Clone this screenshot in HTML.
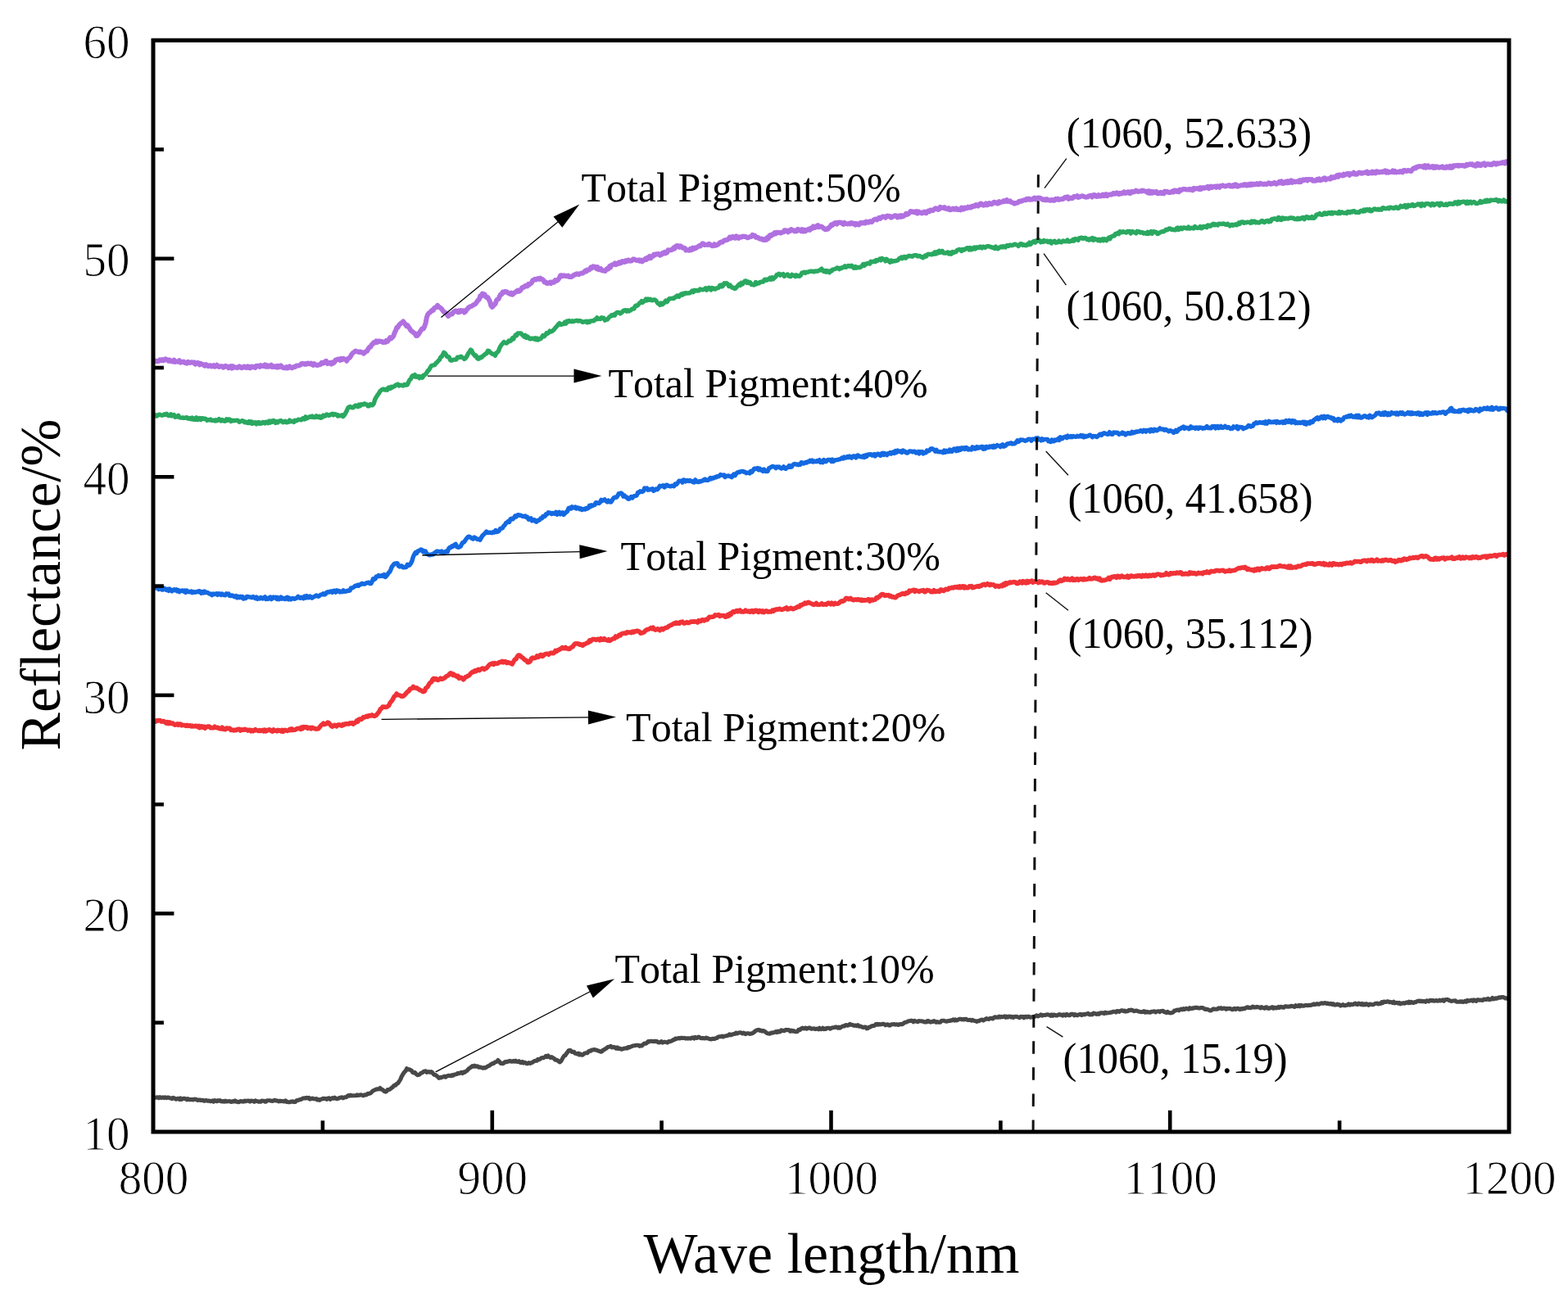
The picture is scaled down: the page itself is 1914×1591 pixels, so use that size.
<!DOCTYPE html>
<html><head><meta charset="utf-8"><title>Reflectance vs Wave length</title>
<style>
html,body{margin:0;padding:0;background:#fff;}
body{width:1914px;height:1591px;overflow:hidden;}
svg{display:block;}
text{font-family:"Liberation Serif","Times New Roman",serif;fill:#000;font-kerning:none;}
</style></head>
<body>
<svg width="1914" height="1591" viewBox="0 0 1914 1591">
<rect x="0" y="0" width="1914" height="1591" fill="#fff"/>
<g><path d="M187.5,1340.2 L189.7,1340.2 L191.0,1339.9 L192.4,1339.7 L193.7,1340.6 L195.1,1339.6 L196.4,1340.5 L197.8,1340.3 L199.1,1339.8 L200.4,1340.6 L201.8,1339.8 L203.1,1340.6 L204.5,1340.0 L205.8,1340.1 L207.2,1340.7 L208.5,1340.9 L209.8,1341.6 L211.1,1340.4 L212.4,1340.7 L213.7,1341.5 L215.0,1342.2 L216.3,1341.6 L217.6,1341.3 L218.9,1342.5 L220.2,1340.9 L221.6,1342.4 L222.9,1341.5 L224.2,1341.3 L225.5,1341.4 L226.8,1341.8 L228.1,1342.8 L229.4,1341.7 L230.7,1342.6 L232.0,1342.5 L233.3,1342.8 L234.6,1342.4 L235.9,1342.9 L237.2,1342.1 L238.5,1342.2 L239.8,1342.5 L241.1,1343.4 L242.4,1343.1 L243.8,1343.0 L245.1,1343.5 L246.4,1343.4 L247.7,1343.2 L249.0,1344.2 L250.3,1344.1 L251.6,1343.4 L252.9,1344.1 L254.2,1344.1 L255.5,1344.1 L256.8,1344.8 L258.1,1344.6 L259.4,1343.8 L260.7,1345.1 L262.0,1343.5 L263.3,1344.1 L264.6,1344.7 L266.0,1343.7 L267.3,1344.3 L268.6,1343.5 L269.9,1344.7 L271.2,1344.9 L272.5,1344.6 L273.8,1345.1 L275.1,1344.2 L276.4,1344.9 L277.7,1344.7 L279.0,1344.7 L280.3,1344.5 L281.6,1345.2 L282.9,1345.5 L284.2,1344.6 L285.6,1345.0 L286.9,1343.9 L288.2,1345.1 L289.5,1345.1 L290.8,1345.7 L292.1,1345.4 L293.4,1344.5 L294.7,1344.9 L296.0,1344.7 L297.3,1345.2 L298.6,1344.0 L299.9,1344.7 L301.2,1344.2 L302.5,1344.1 L303.8,1344.0 L305.1,1345.2 L306.4,1344.0 L307.8,1344.2 L309.1,1344.5 L310.4,1345.3 L311.7,1343.9 L313.0,1344.5 L314.3,1344.7 L315.6,1345.2 L316.9,1345.1 L318.2,1345.2 L319.5,1344.1 L320.8,1344.3 L322.1,1344.2 L323.4,1345.1 L324.7,1345.2 L326.0,1343.7 L327.3,1343.8 L328.6,1343.8 L329.9,1343.8 L331.3,1344.3 L332.6,1344.4 L333.9,1343.8 L335.2,1343.3 L336.5,1344.0 L337.8,1343.9 L339.1,1344.3 L340.4,1344.9 L341.7,1344.1 L343.0,1344.6 L344.4,1344.4 L345.7,1344.7 L347.0,1344.9 L348.4,1343.9 L349.7,1345.5 L351.0,1345.4 L352.3,1345.7 L353.7,1345.7 L355.0,1345.1 L356.3,1345.2 L357.7,1344.8 L359.0,1345.6 L360.4,1345.4 L361.8,1343.9 L363.2,1343.4 L364.6,1343.2 L366.1,1342.6 L367.5,1342.5 L368.9,1341.5 L370.3,1340.9 L371.7,1340.7 L373.1,1340.9 L374.4,1340.3 L375.7,1340.9 L377.0,1340.4 L378.3,1342.1 L379.6,1341.8 L381.0,1341.1 L382.3,1341.4 L383.6,1341.7 L384.9,1341.9 L386.2,1341.6 L387.5,1343.0 L388.8,1342.5 L390.1,1343.3 L391.4,1342.2 L392.7,1342.2 L394.0,1341.4 L395.3,1341.3 L396.6,1341.6 L397.9,1341.4 L399.2,1342.3 L400.5,1341.0 L401.8,1340.7 L403.1,1342.3 L404.5,1341.4 L405.8,1340.6 L407.1,1341.2 L408.4,1340.2 L409.7,1341.0 L411.0,1341.7 L412.3,1341.4 L413.6,1341.0 L414.9,1340.2 L416.2,1340.2 L417.5,1339.8 L418.8,1340.8 L420.1,1340.2 L421.4,1339.7 L422.7,1339.6 L424.1,1338.3 L425.4,1337.6 L426.7,1338.1 L428.0,1337.0 L429.3,1337.9 L430.6,1337.8 L431.9,1337.8 L433.2,1337.8 L434.5,1337.8 L435.8,1336.9 L437.1,1337.5 L438.4,1337.3 L439.7,1336.8 L441.0,1336.8 L442.3,1337.3 L443.6,1337.8 L445.0,1336.7 L446.3,1336.9 L447.7,1336.7 L449.0,1335.2 L450.4,1335.5 L451.8,1334.9 L453.1,1334.2 L454.5,1332.5 L455.8,1331.7 L457.2,1331.0 L458.6,1330.4 L459.9,1329.7 L461.3,1329.9 L462.6,1329.7 L464.0,1328.4 L465.6,1330.2 L467.1,1330.7 L468.7,1332.2 L470.3,1333.1 L471.7,1332.7 L473.1,1330.5 L474.5,1330.6 L475.9,1330.1 L477.3,1328.9 L478.7,1327.9 L480.1,1326.4 L481.5,1325.0 L482.9,1325.1 L484.3,1323.3 L485.7,1322.7 L487.2,1320.5 L488.8,1318.0 L490.3,1314.3 L491.9,1311.7 L493.5,1309.2 L495.0,1307.8 L496.6,1304.7 L498.0,1305.9 L499.4,1305.7 L500.9,1306.4 L502.3,1307.2 L503.7,1309.3 L505.1,1309.9 L506.5,1309.5 L508.0,1311.5 L509.4,1312.6 L510.8,1312.5 L512.4,1311.8 L513.9,1310.3 L515.5,1309.7 L517.0,1308.6 L518.3,1307.9 L519.7,1307.7 L521.0,1309.4 L522.4,1308.9 L523.7,1308.6 L525.1,1309.4 L526.4,1308.6 L527.7,1309.6 L529.1,1311.5 L530.4,1312.5 L531.8,1312.5 L533.1,1313.7 L534.5,1314.9 L535.8,1316.4 L537.1,1315.6 L538.5,1315.9 L539.8,1315.0 L541.2,1314.9 L542.5,1314.1 L543.9,1315.2 L545.2,1314.1 L546.6,1313.5 L548.0,1313.4 L549.3,1313.4 L550.7,1313.7 L552.1,1312.5 L553.5,1313.1 L554.8,1312.0 L556.2,1311.8 L557.6,1311.5 L559.0,1310.3 L560.3,1310.8 L561.7,1310.0 L563.1,1309.4 L564.5,1310.5 L565.8,1309.1 L567.2,1309.4 L568.5,1308.2 L569.9,1307.5 L571.2,1306.1 L572.6,1304.6 L573.9,1303.8 L575.3,1302.7 L576.6,1301.5 L577.9,1302.2 L579.2,1301.2 L580.5,1302.2 L581.8,1301.8 L583.1,1302.1 L584.5,1303.2 L585.8,1302.9 L587.1,1303.2 L588.4,1303.8 L589.7,1304.2 L591.0,1303.6 L592.3,1303.9 L593.6,1303.3 L594.9,1302.3 L596.2,1301.6 L597.5,1301.1 L598.8,1299.9 L600.1,1299.3 L601.4,1298.4 L602.7,1298.4 L604.0,1297.2 L605.3,1296.7 L606.6,1296.1 L607.9,1294.5 L609.5,1296.0 L611.1,1298.4 L612.4,1298.2 L613.7,1298.7 L615.0,1298.2 L616.3,1296.7 L617.6,1296.4 L618.9,1296.7 L620.2,1295.8 L621.5,1295.9 L622.8,1295.3 L624.1,1296.1 L625.4,1296.1 L626.7,1295.3 L628.1,1296.2 L629.4,1295.1 L630.8,1296.3 L632.1,1296.4 L633.5,1295.7 L634.9,1297.2 L636.2,1297.6 L637.6,1296.4 L638.9,1298.0 L640.3,1297.2 L641.7,1297.6 L643.0,1298.7 L644.4,1298.6 L645.7,1297.6 L647.1,1298.4 L648.5,1297.7 L649.9,1297.3 L651.2,1296.3 L652.6,1295.5 L654.0,1295.1 L655.4,1295.3 L656.7,1293.4 L658.1,1293.8 L659.5,1293.0 L660.9,1291.7 L662.2,1291.6 L663.6,1291.6 L665.0,1290.8 L666.4,1289.4 L667.7,1290.5 L669.1,1289.0 L670.5,1290.3 L671.9,1291.4 L673.3,1290.6 L674.7,1291.7 L676.2,1292.1 L677.6,1294.2 L679.0,1294.0 L680.4,1294.6 L681.8,1295.9 L683.2,1296.8 L684.6,1295.8 L685.9,1293.8 L687.3,1291.1 L688.7,1289.1 L690.0,1288.7 L691.4,1286.4 L692.7,1284.8 L694.1,1282.7 L695.4,1282.4 L696.7,1282.8 L698.0,1284.4 L699.3,1284.4 L700.6,1284.2 L702.0,1286.2 L703.3,1286.2 L704.6,1286.9 L705.9,1286.1 L707.2,1287.9 L708.5,1287.0 L709.8,1288.2 L711.2,1288.2 L712.6,1286.9 L714.0,1286.0 L715.4,1285.8 L716.8,1285.8 L718.3,1284.0 L719.7,1283.1 L721.1,1283.2 L722.5,1282.1 L723.9,1281.9 L725.2,1281.5 L726.6,1282.0 L727.9,1282.1 L729.3,1282.7 L730.6,1283.3 L732.0,1283.6 L733.3,1284.3 L734.7,1284.0 L736.0,1282.3 L737.4,1281.9 L738.8,1280.6 L740.2,1280.1 L741.5,1278.7 L742.9,1278.3 L744.3,1278.0 L745.6,1277.4 L746.9,1278.9 L748.2,1278.8 L749.5,1278.4 L750.8,1279.2 L752.1,1280.2 L753.5,1279.0 L754.8,1280.5 L756.1,1280.1 L757.4,1280.4 L758.7,1281.3 L760.0,1280.9 L761.4,1280.3 L762.8,1280.0 L764.2,1279.9 L765.6,1280.0 L766.9,1278.5 L768.3,1278.9 L769.7,1278.2 L771.1,1277.7 L772.5,1277.0 L773.9,1276.8 L775.2,1276.7 L776.6,1276.2 L778.0,1276.3 L779.4,1276.2 L780.8,1277.4 L782.1,1276.6 L783.5,1277.0 L785.1,1275.3 L786.6,1274.1 L788.2,1274.3 L789.7,1273.3 L791.3,1271.5 L792.6,1271.9 L794.0,1271.2 L795.4,1271.2 L796.7,1271.4 L798.0,1271.7 L799.4,1271.2 L800.8,1271.8 L802.1,1271.5 L803.5,1272.8 L804.8,1272.9 L806.1,1272.2 L807.5,1271.7 L808.9,1273.1 L810.2,1272.3 L811.8,1272.2 L813.3,1272.6 L814.9,1273.1 L816.3,1271.6 L817.6,1271.7 L819.0,1271.3 L820.3,1270.8 L821.7,1269.6 L823.1,1269.6 L824.4,1268.1 L825.8,1268.4 L827.1,1267.9 L828.5,1267.5 L829.8,1268.0 L831.2,1267.3 L832.5,1267.2 L833.9,1267.6 L835.2,1267.4 L836.5,1267.9 L837.9,1267.8 L839.2,1268.1 L840.6,1267.8 L841.9,1267.9 L843.3,1268.1 L844.6,1267.1 L845.9,1266.9 L847.3,1268.1 L848.6,1266.5 L850.0,1267.4 L851.3,1267.2 L852.7,1266.1 L854.0,1266.8 L855.3,1267.5 L856.6,1267.8 L857.9,1267.4 L859.2,1267.8 L860.5,1268.0 L861.9,1267.0 L863.2,1267.8 L864.5,1267.9 L865.8,1268.6 L867.1,1268.7 L868.4,1268.9 L869.7,1268.4 L871.0,1268.3 L872.3,1268.5 L873.6,1267.8 L874.9,1267.6 L876.2,1266.4 L877.6,1265.8 L878.9,1265.7 L880.2,1265.8 L881.5,1265.0 L882.8,1266.0 L884.1,1265.3 L885.4,1265.1 L886.7,1264.8 L888.0,1264.6 L889.3,1263.9 L890.6,1262.8 L891.9,1263.9 L893.2,1263.5 L894.6,1262.8 L895.9,1262.5 L897.2,1262.5 L898.5,1261.1 L899.8,1262.0 L901.1,1261.3 L902.4,1260.9 L903.7,1260.7 L905.0,1261.1 L906.3,1262.0 L907.6,1261.1 L908.9,1262.1 L910.2,1262.6 L911.5,1261.8 L912.8,1261.7 L914.1,1261.9 L915.4,1262.4 L916.7,1262.1 L918.0,1261.9 L919.4,1261.0 L920.7,1260.3 L922.1,1258.7 L923.4,1258.1 L924.8,1257.6 L926.1,1257.4 L927.5,1258.4 L928.9,1258.1 L930.3,1259.1 L931.7,1258.6 L933.1,1259.2 L934.5,1260.1 L935.9,1261.4 L937.3,1261.9 L938.7,1262.1 L940.1,1262.1 L941.4,1261.1 L942.8,1261.2 L944.1,1260.8 L945.5,1260.5 L946.9,1259.5 L948.2,1260.6 L949.6,1259.1 L950.9,1260.1 L952.3,1259.8 L953.7,1257.8 L955.0,1258.3 L956.4,1258.6 L957.7,1258.6 L959.1,1257.4 L960.5,1257.6 L961.9,1257.5 L963.3,1257.7 L964.7,1259.3 L966.0,1258.2 L967.4,1259.1 L968.8,1258.6 L970.2,1259.6 L971.6,1259.8 L973.2,1259.7 L974.7,1257.3 L976.3,1257.6 L977.8,1256.1 L979.4,1255.1 L980.7,1255.9 L982.0,1255.7 L983.3,1255.0 L984.6,1256.3 L985.9,1255.7 L987.2,1255.0 L988.6,1255.1 L989.9,1256.1 L991.2,1256.1 L992.5,1256.0 L993.8,1255.8 L995.1,1256.6 L996.4,1256.2 L997.7,1256.1 L999.0,1256.9 L1000.3,1255.3 L1001.6,1256.6 L1003.0,1256.6 L1004.3,1255.2 L1005.6,1256.6 L1006.9,1256.1 L1008.2,1256.4 L1009.5,1255.2 L1010.8,1255.2 L1012.1,1255.2 L1013.4,1256.2 L1014.7,1255.3 L1016.0,1254.8 L1017.3,1254.8 L1018.6,1254.5 L1020.0,1254.0 L1021.3,1254.0 L1022.6,1255.2 L1023.9,1254.1 L1025.2,1255.2 L1026.5,1254.3 L1027.9,1253.4 L1029.2,1252.9 L1030.6,1252.9 L1032.0,1251.8 L1033.3,1251.6 L1034.7,1252.2 L1036.0,1251.6 L1037.4,1250.4 L1038.8,1251.3 L1040.2,1251.2 L1041.6,1252.0 L1043.0,1252.4 L1044.4,1252.0 L1045.8,1252.6 L1047.2,1251.7 L1048.6,1253.2 L1050.0,1253.1 L1051.3,1253.4 L1052.7,1254.2 L1054.0,1254.4 L1055.4,1254.1 L1056.7,1254.0 L1058.1,1255.9 L1059.4,1255.5 L1060.7,1254.2 L1062.1,1254.1 L1063.4,1253.2 L1064.8,1252.5 L1066.1,1252.6 L1067.5,1252.3 L1068.8,1250.8 L1070.1,1250.4 L1071.5,1251.1 L1072.8,1250.5 L1074.2,1251.0 L1075.5,1250.8 L1076.9,1250.4 L1078.2,1250.4 L1079.5,1250.5 L1080.9,1251.8 L1082.2,1251.1 L1083.6,1250.7 L1084.9,1251.9 L1086.3,1252.1 L1087.6,1251.2 L1088.9,1250.7 L1090.3,1250.8 L1091.6,1250.6 L1093.0,1251.1 L1094.3,1250.7 L1095.7,1251.0 L1097.0,1251.5 L1098.4,1250.5 L1099.8,1250.6 L1101.2,1250.6 L1102.6,1249.9 L1104.0,1248.7 L1105.4,1248.2 L1106.8,1247.9 L1108.2,1247.1 L1109.6,1246.8 L1110.9,1246.5 L1112.2,1246.1 L1113.6,1246.5 L1114.9,1247.8 L1116.2,1246.3 L1117.5,1247.0 L1118.9,1247.2 L1120.2,1247.7 L1121.5,1246.6 L1122.8,1246.7 L1124.2,1246.7 L1125.5,1247.0 L1126.8,1247.1 L1128.1,1248.0 L1129.4,1247.9 L1130.8,1248.0 L1132.1,1246.5 L1133.4,1246.5 L1134.7,1247.8 L1136.1,1248.1 L1137.4,1247.4 L1138.7,1247.6 L1140.0,1246.6 L1141.4,1247.3 L1142.7,1248.3 L1144.0,1247.6 L1145.3,1248.1 L1146.6,1248.0 L1147.9,1248.1 L1149.2,1246.6 L1150.5,1246.3 L1151.8,1246.2 L1153.2,1246.7 L1154.5,1246.9 L1155.8,1247.2 L1157.1,1246.7 L1158.4,1246.4 L1159.7,1246.5 L1161.0,1245.8 L1162.3,1245.9 L1163.6,1244.8 L1164.9,1246.0 L1166.2,1244.9 L1167.6,1246.0 L1168.9,1245.4 L1170.2,1244.7 L1171.5,1244.2 L1172.8,1244.3 L1174.1,1244.9 L1175.4,1244.5 L1176.7,1245.0 L1178.0,1244.2 L1179.3,1244.3 L1180.6,1245.3 L1181.9,1245.6 L1183.2,1245.4 L1184.6,1245.3 L1185.9,1246.2 L1187.2,1245.3 L1188.5,1246.1 L1189.8,1246.5 L1191.1,1246.8 L1192.4,1247.4 L1193.7,1246.6 L1195.0,1246.8 L1196.3,1245.8 L1197.6,1245.2 L1198.9,1245.0 L1200.2,1246.0 L1201.5,1245.3 L1202.8,1244.4 L1204.1,1243.6 L1205.4,1244.3 L1206.8,1244.4 L1208.1,1243.7 L1209.4,1243.2 L1210.7,1243.7 L1212.0,1243.9 L1213.3,1242.4 L1214.6,1241.8 L1215.9,1242.2 L1217.2,1242.1 L1218.5,1242.3 L1219.8,1241.2 L1221.1,1242.1 L1222.4,1241.3 L1223.7,1241.8 L1225.0,1241.4 L1226.3,1240.9 L1227.6,1242.3 L1228.9,1241.1 L1230.2,1242.1 L1231.6,1241.0 L1232.9,1241.1 L1234.2,1242.1 L1235.5,1241.3 L1236.8,1242.5 L1238.1,1241.7 L1239.4,1241.2 L1240.7,1241.3 L1242.0,1241.7 L1243.3,1242.1 L1244.6,1242.7 L1246.0,1241.3 L1247.3,1241.7 L1248.6,1241.4 L1249.9,1242.9 L1251.2,1241.4 L1252.5,1241.3 L1253.8,1242.1 L1255.1,1241.1 L1256.4,1241.5 L1257.7,1242.2 L1259.0,1242.0 L1260.3,1241.6 L1261.6,1241.8 L1262.9,1241.5 L1264.2,1240.3 L1265.5,1239.8 L1266.8,1241.0 L1268.1,1240.4 L1269.4,1239.8 L1270.7,1238.9 L1272.0,1240.1 L1273.3,1239.5 L1274.6,1239.5 L1275.9,1239.4 L1277.2,1239.1 L1278.6,1238.7 L1279.9,1239.2 L1281.2,1239.3 L1282.5,1240.4 L1283.8,1238.9 L1285.1,1240.4 L1286.4,1239.0 L1287.7,1239.2 L1289.0,1240.0 L1290.3,1240.0 L1291.6,1239.3 L1293.0,1238.6 L1294.3,1239.3 L1295.6,1239.1 L1296.9,1240.1 L1298.2,1238.8 L1299.5,1239.0 L1300.8,1240.0 L1302.1,1238.4 L1303.4,1239.1 L1304.7,1239.8 L1306.0,1239.7 L1307.3,1238.3 L1308.7,1238.3 L1310.0,1238.3 L1311.3,1239.8 L1312.6,1238.6 L1313.9,1239.5 L1315.2,1239.7 L1316.5,1239.0 L1317.8,1238.6 L1319.1,1238.4 L1320.4,1239.6 L1321.7,1238.9 L1323.0,1238.2 L1324.3,1238.9 L1325.6,1238.1 L1326.9,1238.0 L1328.2,1237.4 L1329.6,1238.7 L1330.9,1238.9 L1332.2,1238.3 L1333.5,1238.8 L1334.8,1237.1 L1336.1,1237.4 L1337.4,1237.7 L1338.7,1238.5 L1340.0,1237.6 L1341.3,1238.3 L1342.6,1237.1 L1343.9,1236.8 L1345.2,1236.9 L1346.5,1236.9 L1347.8,1237.6 L1349.2,1236.1 L1350.5,1237.1 L1351.8,1236.8 L1353.1,1236.8 L1354.4,1236.6 L1355.7,1236.0 L1357.0,1236.1 L1358.3,1235.4 L1359.6,1235.3 L1360.9,1235.2 L1362.2,1235.9 L1363.5,1234.5 L1364.8,1234.6 L1366.1,1235.4 L1367.5,1234.4 L1368.8,1233.9 L1370.1,1233.8 L1371.4,1234.6 L1372.7,1234.0 L1374.0,1235.1 L1375.3,1234.8 L1376.6,1234.8 L1377.9,1233.4 L1379.2,1233.7 L1380.5,1233.1 L1381.8,1233.2 L1383.1,1234.1 L1384.4,1234.6 L1385.7,1234.2 L1387.0,1234.0 L1388.3,1234.4 L1389.6,1234.9 L1391.0,1235.2 L1392.3,1235.4 L1393.6,1235.7 L1394.9,1235.5 L1396.2,1234.7 L1397.5,1236.1 L1398.8,1235.2 L1400.1,1235.9 L1401.4,1235.6 L1402.7,1236.0 L1404.0,1236.3 L1405.3,1235.2 L1406.6,1235.2 L1407.9,1235.0 L1409.2,1234.8 L1410.6,1235.9 L1411.9,1235.3 L1413.2,1234.7 L1414.5,1234.7 L1415.8,1235.6 L1417.1,1234.6 L1418.4,1234.5 L1419.7,1234.3 L1421.1,1235.7 L1422.4,1235.8 L1423.8,1236.7 L1425.1,1235.4 L1426.5,1236.4 L1427.8,1236.8 L1429.2,1236.9 L1430.6,1236.5 L1432.0,1236.1 L1433.4,1234.1 L1434.8,1234.1 L1436.3,1233.3 L1437.7,1233.0 L1439.1,1233.9 L1440.5,1232.7 L1441.9,1232.1 L1443.2,1232.8 L1444.5,1231.7 L1445.8,1232.5 L1447.1,1231.7 L1448.4,1231.3 L1449.7,1232.1 L1451.0,1232.3 L1452.3,1230.7 L1453.7,1231.5 L1455.0,1231.5 L1456.3,1230.7 L1457.6,1230.9 L1458.9,1230.4 L1460.2,1230.4 L1461.5,1230.4 L1462.8,1230.9 L1464.1,1231.0 L1465.4,1230.6 L1466.8,1230.5 L1468.2,1230.5 L1469.5,1231.5 L1470.9,1232.5 L1472.3,1232.0 L1473.7,1232.6 L1475.0,1232.8 L1476.4,1233.7 L1477.8,1234.0 L1479.2,1233.3 L1480.6,1232.1 L1482.0,1231.9 L1483.3,1232.2 L1484.7,1232.2 L1486.1,1232.1 L1487.5,1230.8 L1488.9,1231.3 L1490.2,1230.7 L1491.5,1231.7 L1492.8,1231.3 L1494.1,1231.1 L1495.4,1231.2 L1496.7,1232.4 L1498.0,1231.3 L1499.3,1231.8 L1500.7,1231.4 L1502.0,1231.6 L1503.3,1232.4 L1504.6,1232.7 L1505.9,1231.6 L1507.2,1231.4 L1508.5,1232.4 L1509.8,1231.5 L1511.1,1231.2 L1512.4,1232.1 L1513.7,1232.6 L1515.0,1231.6 L1516.3,1232.1 L1517.6,1231.2 L1518.9,1231.8 L1520.2,1230.9 L1521.6,1230.2 L1522.9,1229.7 L1524.2,1230.5 L1525.5,1230.4 L1526.8,1230.7 L1528.1,1229.8 L1529.4,1229.1 L1530.7,1230.1 L1532.0,1229.7 L1533.3,1230.0 L1534.6,1229.4 L1535.9,1229.7 L1537.2,1230.1 L1538.5,1230.9 L1539.8,1229.5 L1541.2,1230.2 L1542.5,1230.8 L1543.8,1231.2 L1545.1,1229.8 L1546.4,1229.8 L1547.7,1231.3 L1549.0,1231.4 L1550.3,1230.5 L1551.6,1230.6 L1552.9,1229.7 L1554.2,1231.2 L1555.5,1230.1 L1556.8,1231.0 L1558.1,1230.4 L1559.4,1230.7 L1560.7,1229.4 L1562.0,1230.4 L1563.3,1229.3 L1564.7,1229.5 L1566.0,1230.2 L1567.3,1230.1 L1568.6,1228.9 L1569.9,1228.8 L1571.2,1229.1 L1572.5,1229.2 L1573.8,1228.9 L1575.1,1229.0 L1576.4,1228.2 L1577.7,1228.4 L1579.0,1229.1 L1580.3,1229.4 L1581.6,1227.7 L1582.9,1228.6 L1584.2,1228.8 L1585.5,1227.5 L1586.8,1228.8 L1588.2,1227.4 L1589.5,1228.2 L1590.8,1228.0 L1592.1,1228.1 L1593.4,1227.4 L1594.7,1227.5 L1596.0,1227.7 L1597.3,1227.4 L1598.6,1227.4 L1599.9,1227.5 L1601.2,1226.9 L1602.5,1226.7 L1603.8,1225.8 L1605.1,1226.7 L1606.4,1226.2 L1607.8,1225.6 L1609.1,1226.3 L1610.4,1226.2 L1611.7,1225.4 L1613.0,1224.7 L1614.3,1225.1 L1615.6,1225.2 L1616.9,1224.6 L1618.2,1224.8 L1619.5,1225.5 L1620.8,1225.0 L1622.1,1225.8 L1623.4,1226.0 L1624.7,1225.3 L1626.0,1226.5 L1627.4,1225.6 L1628.7,1226.9 L1630.0,1227.1 L1631.3,1226.8 L1632.6,1226.1 L1633.9,1227.0 L1635.2,1226.9 L1636.5,1228.1 L1637.8,1227.4 L1639.2,1226.6 L1640.6,1227.7 L1641.9,1227.8 L1643.3,1227.2 L1644.7,1227.1 L1646.1,1225.9 L1647.5,1227.1 L1648.9,1226.1 L1650.2,1226.7 L1651.6,1226.5 L1653.0,1225.6 L1654.4,1225.1 L1655.7,1226.3 L1657.1,1226.6 L1658.4,1225.1 L1659.8,1225.7 L1661.1,1226.5 L1662.5,1225.5 L1663.8,1226.9 L1665.2,1225.8 L1666.5,1226.9 L1667.9,1225.7 L1669.2,1226.5 L1670.6,1227.3 L1671.9,1226.1 L1673.3,1226.2 L1674.6,1226.7 L1676.0,1226.8 L1677.3,1226.2 L1678.6,1225.4 L1680.0,1225.3 L1681.3,1225.0 L1682.6,1226.0 L1683.9,1225.3 L1685.3,1225.4 L1686.6,1223.7 L1687.9,1224.5 L1689.2,1223.0 L1690.6,1223.5 L1691.9,1223.4 L1693.2,1222.8 L1694.5,1222.7 L1695.9,1223.8 L1697.2,1223.4 L1698.5,1223.7 L1699.9,1224.4 L1701.2,1223.1 L1702.5,1224.9 L1703.8,1224.4 L1705.2,1224.2 L1706.5,1225.1 L1707.8,1224.3 L1709.2,1225.8 L1710.5,1225.1 L1711.8,1225.1 L1713.2,1224.6 L1714.5,1225.2 L1715.9,1224.5 L1717.2,1223.8 L1718.6,1224.7 L1719.9,1223.3 L1721.3,1224.6 L1722.6,1223.4 L1724.0,1224.0 L1725.3,1224.5 L1726.7,1223.6 L1728.0,1223.6 L1729.4,1222.9 L1730.7,1222.2 L1732.1,1222.1 L1733.4,1222.8 L1734.7,1222.1 L1736.1,1222.9 L1737.4,1222.5 L1738.7,1222.6 L1740.1,1223.3 L1741.4,1221.9 L1742.7,1222.0 L1744.0,1222.7 L1745.4,1221.5 L1746.7,1221.4 L1748.0,1222.0 L1749.4,1221.5 L1750.7,1222.2 L1752.0,1221.9 L1753.3,1221.5 L1754.7,1222.1 L1756.0,1222.0 L1757.3,1221.2 L1758.6,1221.9 L1760.0,1221.5 L1761.3,1220.8 L1762.6,1222.2 L1763.9,1220.8 L1765.3,1220.6 L1766.6,1220.4 L1767.9,1221.0 L1769.3,1221.5 L1770.8,1222.2 L1772.2,1222.4 L1773.7,1222.0 L1775.1,1222.0 L1776.5,1221.8 L1778.0,1223.3 L1779.4,1223.3 L1780.7,1223.3 L1782.1,1222.8 L1783.4,1223.2 L1784.7,1222.8 L1786.0,1223.5 L1787.4,1223.1 L1788.7,1222.1 L1790.0,1223.2 L1791.3,1221.5 L1792.7,1222.3 L1794.0,1221.9 L1795.3,1221.5 L1796.7,1221.1 L1798.0,1222.3 L1799.3,1220.8 L1800.6,1221.7 L1802.0,1222.3 L1803.3,1220.7 L1804.6,1220.7 L1805.9,1221.3 L1807.3,1221.1 L1808.6,1221.2 L1809.9,1221.4 L1811.2,1220.1 L1812.6,1220.3 L1813.9,1220.5 L1815.2,1220.0 L1816.5,1219.3 L1817.9,1220.7 L1819.2,1220.3 L1820.5,1220.0 L1821.8,1218.5 L1823.2,1219.9 L1824.5,1219.5 L1825.8,1218.8 L1827.1,1219.2 L1828.5,1218.5 L1829.8,1217.9 L1831.1,1218.2 L1832.4,1217.6 L1833.7,1217.8 L1835.0,1217.6 L1836.3,1218.2 L1837.6,1219.0 L1838.9,1218.9 L1840.2,1219.3 L1841.5,1218.7" fill="none" stroke="#484848" stroke-width="5.1" stroke-linejoin="round" stroke-linecap="butt"/><path d="M187.5,881.1 L188.1,881.1 L189.7,881.2 L191.2,879.8 L192.8,880.1 L194.4,879.6 L195.8,879.8 L197.2,881.1 L198.6,880.8 L200.0,880.6 L201.4,881.9 L202.9,883.1 L204.3,881.7 L205.7,883.6 L207.1,881.9 L208.5,883.5 L209.8,883.1 L211.1,883.1 L212.4,884.5 L213.7,885.1 L215.0,884.7 L216.3,883.9 L217.6,885.3 L218.9,884.1 L220.2,884.0 L221.6,885.8 L222.9,885.2 L224.2,885.5 L225.5,885.6 L226.8,886.4 L228.1,885.3 L229.4,886.4 L230.7,886.1 L232.0,885.8 L233.3,886.9 L234.6,886.0 L235.9,886.9 L237.2,886.8 L238.5,886.3 L239.8,886.3 L241.2,887.5 L242.5,886.4 L243.8,888.6 L245.1,886.9 L246.4,886.9 L247.7,888.2 L249.0,887.3 L250.3,889.2 L251.6,887.8 L252.9,887.3 L254.2,887.1 L255.5,887.1 L256.9,888.7 L258.2,888.5 L259.5,888.7 L260.8,888.8 L262.1,887.2 L263.4,888.2 L264.7,888.6 L266.0,888.2 L267.3,889.5 L268.6,889.7 L269.9,890.0 L271.2,888.2 L272.5,890.3 L273.8,890.6 L275.1,890.8 L276.5,889.0 L277.8,889.4 L279.1,889.3 L280.4,889.3 L281.7,891.4 L283.0,891.5 L284.3,891.3 L285.6,891.9 L286.9,891.3 L288.2,891.6 L289.5,890.8 L290.8,890.4 L292.1,890.4 L293.4,892.1 L294.7,890.8 L296.0,891.1 L297.4,891.3 L298.7,890.4 L300.0,891.0 L301.3,891.1 L302.6,892.1 L303.9,891.3 L305.2,891.2 L306.5,892.8 L307.8,891.7 L309.1,892.6 L310.4,892.1 L311.7,890.7 L313.0,891.6 L314.3,891.7 L315.6,892.5 L317.0,891.5 L318.3,892.4 L319.6,892.1 L320.9,891.3 L322.2,892.9 L323.5,891.1 L324.8,892.8 L326.1,892.1 L327.4,891.3 L328.7,890.9 L330.0,891.4 L331.3,892.7 L332.6,893.2 L333.9,890.9 L335.2,892.1 L336.5,892.1 L337.9,892.8 L339.2,891.3 L340.5,892.1 L341.8,891.7 L343.1,892.9 L344.4,891.5 L345.7,893.2 L347.0,891.6 L348.3,891.4 L349.6,892.1 L350.9,892.4 L352.2,891.7 L353.5,890.5 L354.8,891.6 L356.1,890.0 L357.4,891.5 L358.7,891.1 L360.0,891.1 L361.4,890.5 L362.7,889.6 L364.0,889.5 L365.3,889.2 L366.6,890.2 L367.9,888.1 L369.2,889.8 L370.5,887.5 L371.8,887.7 L373.1,888.2 L374.4,887.8 L375.7,889.4 L377.0,888.6 L378.3,888.4 L379.6,889.7 L381.0,888.3 L382.3,889.0 L383.6,889.3 L384.9,889.9 L386.2,890.1 L387.5,889.9 L388.8,889.7 L390.4,887.5 L391.9,885.7 L393.5,884.3 L394.8,883.2 L396.1,884.6 L397.4,883.9 L398.7,883.8 L400.0,882.2 L401.3,882.7 L402.9,884.5 L404.4,886.6 L405.7,887.1 L407.0,886.5 L408.3,885.3 L409.6,886.0 L410.9,886.9 L412.2,885.2 L413.6,884.9 L414.9,885.1 L416.2,885.9 L417.5,886.1 L418.8,884.3 L420.1,885.0 L421.5,883.9 L422.9,883.9 L424.3,883.8 L425.7,884.0 L427.0,882.9 L428.4,883.1 L429.8,882.5 L431.2,884.1 L432.6,882.7 L434.0,882.4 L435.4,880.0 L436.7,881.1 L438.1,878.2 L439.5,878.0 L440.9,878.5 L442.2,877.2 L443.6,875.6 L444.9,876.0 L446.2,875.1 L447.5,874.3 L448.8,875.2 L450.1,873.7 L451.5,873.7 L452.8,874.0 L454.1,872.9 L455.4,873.6 L456.7,874.4 L458.0,874.0 L459.3,873.3 L460.6,871.6 L461.9,870.2 L463.2,868.1 L464.5,865.6 L465.8,865.0 L467.1,863.1 L468.6,863.0 L470.0,863.4 L471.7,863.4 L473.4,862.3 L474.7,861.4 L476.1,858.3 L477.4,856.7 L478.8,855.2 L480.1,852.5 L481.4,850.2 L482.8,849.4 L484.1,847.0 L485.7,848.5 L487.2,848.9 L488.8,849.3 L490.3,850.3 L491.9,850.1 L493.3,849.2 L494.7,847.8 L496.1,846.1 L497.5,844.5 L498.9,843.9 L500.3,841.3 L501.7,840.8 L503.1,840.4 L504.5,838.4 L505.9,839.6 L507.3,840.1 L508.7,839.9 L510.1,841.0 L511.4,841.7 L512.8,842.8 L514.2,843.0 L515.6,844.3 L517.0,844.6 L518.4,843.8 L519.8,840.1 L521.1,839.4 L522.5,837.8 L523.9,835.0 L525.2,833.4 L526.6,832.7 L528.0,829.7 L529.4,828.5 L530.8,829.6 L532.2,828.7 L533.6,830.1 L534.9,830.4 L536.3,829.3 L537.7,828.2 L539.1,829.3 L540.5,829.0 L541.8,828.1 L543.2,827.5 L544.5,826.0 L545.9,825.3 L547.2,824.7 L548.6,823.0 L549.9,821.9 L551.2,822.3 L552.5,824.3 L553.8,823.2 L555.1,824.9 L556.4,824.9 L557.8,826.4 L559.1,825.5 L560.4,828.3 L561.7,827.4 L563.0,827.3 L564.3,828.5 L565.6,829.7 L567.0,828.4 L568.4,826.4 L569.8,826.2 L571.2,825.1 L572.7,824.7 L574.1,822.8 L575.5,821.5 L576.9,820.3 L578.3,820.5 L579.7,818.8 L581.1,819.6 L582.5,818.3 L583.9,817.3 L585.3,818.5 L586.7,817.2 L588.1,816.5 L589.5,816.0 L590.9,817.3 L592.3,816.4 L593.8,815.8 L595.4,814.0 L597.0,812.2 L598.5,810.9 L599.8,810.8 L601.2,809.8 L602.5,811.3 L603.8,809.6 L605.2,810.0 L606.5,810.2 L607.8,810.0 L609.1,808.9 L610.5,808.3 L611.8,808.6 L613.1,807.4 L614.5,808.8 L615.8,807.8 L617.1,807.9 L618.5,809.5 L619.8,808.6 L621.2,809.3 L622.5,809.4 L623.9,810.3 L625.2,810.9 L626.8,808.0 L628.3,805.3 L629.9,804.9 L631.4,801.7 L633.0,800.0 L634.4,800.3 L635.8,801.4 L637.2,802.8 L638.6,803.7 L639.9,805.1 L641.3,806.1 L642.7,806.4 L644.1,808.7 L645.5,808.6 L647.1,807.6 L648.7,803.9 L650.3,803.1 L651.6,803.6 L652.9,803.5 L654.2,802.9 L655.5,801.0 L656.8,802.4 L658.1,801.6 L659.4,799.8 L660.7,799.5 L662.0,801.4 L663.4,800.4 L664.7,799.1 L666.0,798.5 L667.3,798.3 L668.6,798.2 L669.9,799.2 L671.2,797.8 L672.5,797.1 L673.8,797.6 L675.2,797.8 L676.6,796.7 L678.0,794.5 L679.4,795.4 L680.7,794.0 L682.1,793.6 L683.5,792.6 L684.9,792.3 L686.3,790.6 L687.6,791.5 L689.0,791.8 L690.3,790.5 L691.7,791.9 L693.0,791.7 L694.4,792.5 L695.7,792.1 L697.3,790.4 L698.9,789.9 L700.4,787.6 L702.0,785.9 L703.3,785.7 L704.7,785.9 L706.0,786.0 L707.4,787.2 L708.7,786.5 L710.1,787.8 L711.4,788.2 L712.8,786.5 L714.2,786.4 L715.6,785.6 L717.0,784.8 L718.3,784.7 L719.7,781.8 L721.1,783.0 L722.5,781.2 L723.9,780.4 L725.3,780.6 L726.6,780.9 L728.0,781.4 L729.4,780.3 L730.8,780.5 L732.1,781.8 L733.5,779.7 L734.9,781.1 L736.3,781.2 L737.6,779.8 L739.0,781.2 L740.4,781.4 L741.8,782.1 L743.1,780.7 L744.5,782.3 L745.9,781.2 L747.3,780.5 L748.7,779.6 L750.1,779.8 L751.5,777.0 L753.0,777.9 L754.4,776.9 L755.8,775.4 L757.2,775.9 L758.6,773.9 L760.0,773.5 L761.3,773.2 L762.7,773.1 L764.0,773.5 L765.4,771.9 L766.7,772.3 L768.1,772.0 L769.4,772.1 L770.7,772.6 L772.1,771.1 L773.4,772.1 L774.8,770.9 L776.1,770.9 L777.5,770.2 L778.8,770.5 L780.4,771.3 L781.9,773.2 L783.5,772.9 L784.9,772.5 L786.2,772.0 L787.6,770.1 L789.0,769.3 L790.4,768.5 L791.8,768.4 L793.1,767.7 L794.5,766.6 L795.9,767.7 L797.2,766.3 L798.6,768.3 L800.0,769.1 L801.4,768.6 L802.8,767.8 L804.1,768.8 L805.5,769.7 L806.8,767.9 L808.1,767.6 L809.5,768.7 L810.8,767.3 L812.1,766.8 L813.4,766.4 L814.8,766.1 L816.1,764.7 L817.4,764.0 L818.7,763.4 L820.1,762.9 L821.4,762.0 L822.7,761.1 L824.0,761.4 L825.3,760.2 L826.6,761.2 L827.9,760.6 L829.2,761.3 L830.5,759.6 L831.8,759.7 L833.1,759.2 L834.4,760.9 L835.7,761.1 L837.0,760.4 L838.4,759.6 L839.7,760.6 L841.0,760.4 L842.3,759.8 L843.6,759.0 L844.9,759.0 L846.2,759.2 L847.5,758.8 L848.8,759.0 L850.1,759.4 L851.4,760.0 L852.7,757.8 L854.0,758.8 L855.3,758.6 L856.6,756.9 L858.0,756.7 L859.3,757.9 L860.6,757.0 L861.9,756.4 L863.3,756.7 L864.6,754.9 L866.0,753.2 L867.4,753.4 L868.8,753.2 L870.1,753.3 L871.5,752.7 L872.9,750.9 L874.3,751.1 L875.7,751.2 L877.1,750.7 L878.5,752.3 L879.8,751.5 L881.2,751.7 L882.6,751.6 L884.0,751.8 L885.4,753.3 L886.8,753.0 L888.2,750.8 L889.6,752.1 L891.0,749.2 L892.3,750.2 L893.7,747.7 L895.1,746.6 L896.5,747.5 L897.9,746.2 L899.2,745.6 L900.6,746.8 L901.9,745.4 L903.3,745.1 L904.6,746.9 L906.0,746.7 L907.3,747.1 L908.6,746.8 L910.0,745.2 L911.3,746.5 L912.7,746.7 L914.0,746.1 L915.4,747.2 L916.7,746.2 L918.0,745.7 L919.3,747.4 L920.6,746.9 L921.9,745.2 L923.3,745.3 L924.6,746.8 L925.9,747.3 L927.2,745.5 L928.5,746.1 L929.8,747.2 L931.1,745.9 L932.4,747.6 L933.7,746.7 L935.1,745.8 L936.4,746.5 L937.7,747.1 L939.0,746.8 L940.3,747.0 L941.6,746.9 L942.9,745.1 L944.2,746.2 L945.5,744.6 L946.8,744.8 L948.1,743.9 L949.4,744.1 L950.7,743.5 L952.0,743.4 L953.3,744.2 L954.6,744.5 L955.9,744.0 L957.2,743.4 L958.5,742.7 L959.9,742.0 L961.2,744.1 L962.5,743.4 L963.8,743.6 L965.1,742.3 L966.4,742.9 L967.7,743.7 L969.0,743.3 L970.3,742.6 L971.6,742.3 L973.0,741.1 L974.4,740.6 L975.7,740.9 L977.1,738.9 L978.5,738.9 L979.9,737.9 L981.2,737.8 L982.6,736.1 L984.0,737.0 L985.4,735.9 L986.8,735.4 L988.2,736.2 L989.5,736.7 L990.9,737.3 L992.3,738.0 L993.7,738.4 L995.1,737.6 L996.4,736.5 L997.8,738.3 L999.1,738.2 L1000.5,738.3 L1001.8,737.6 L1003.2,736.8 L1004.5,738.2 L1005.8,738.0 L1007.2,737.7 L1008.5,738.2 L1009.9,736.8 L1011.2,736.1 L1012.6,737.2 L1013.9,737.8 L1015.2,736.3 L1016.6,737.6 L1017.9,738.0 L1019.3,736.3 L1020.6,737.1 L1022.0,737.3 L1023.3,736.8 L1024.7,735.9 L1026.0,734.5 L1027.4,733.9 L1028.8,734.3 L1030.2,733.6 L1031.5,732.1 L1032.9,730.4 L1034.3,730.6 L1035.6,731.5 L1036.9,731.6 L1038.2,730.5 L1039.5,731.6 L1040.8,732.5 L1042.2,732.7 L1043.5,732.0 L1044.8,732.1 L1046.1,732.5 L1047.4,731.8 L1048.7,732.0 L1050.0,732.9 L1051.3,732.1 L1052.6,733.4 L1053.9,732.6 L1055.2,733.1 L1056.5,732.7 L1057.8,732.9 L1059.2,732.1 L1060.5,731.8 L1061.8,734.1 L1063.1,732.6 L1064.4,732.0 L1065.7,732.9 L1067.1,732.4 L1068.5,732.0 L1069.9,729.7 L1071.3,730.0 L1072.6,728.6 L1074.0,728.2 L1075.4,726.2 L1076.8,725.5 L1078.2,725.8 L1079.5,727.2 L1080.8,727.2 L1082.1,726.6 L1083.4,727.0 L1084.7,726.6 L1086.1,728.1 L1087.4,727.5 L1088.7,729.0 L1090.0,728.8 L1091.3,729.2 L1092.6,729.8 L1093.9,729.0 L1095.2,727.8 L1096.6,726.8 L1097.9,726.6 L1099.3,726.0 L1100.6,725.2 L1102.0,724.5 L1103.3,725.2 L1104.6,725.4 L1106.0,723.8 L1107.3,724.4 L1108.7,723.8 L1110.0,721.2 L1111.4,721.9 L1112.7,721.1 L1114.0,720.9 L1115.3,720.3 L1116.6,722.3 L1117.9,720.7 L1119.2,721.4 L1120.5,721.6 L1121.8,722.4 L1123.1,721.8 L1124.4,721.1 L1125.7,721.3 L1127.0,720.7 L1128.3,722.6 L1129.7,722.7 L1131.0,720.9 L1132.3,720.5 L1133.6,721.0 L1134.9,721.3 L1136.2,722.7 L1137.5,722.7 L1138.8,722.6 L1140.1,720.7 L1141.4,722.5 L1142.7,722.4 L1144.0,721.9 L1145.3,722.0 L1146.6,722.5 L1147.9,720.1 L1149.2,720.0 L1150.6,721.2 L1151.9,721.4 L1153.2,720.5 L1154.5,719.3 L1155.8,719.8 L1157.1,719.9 L1158.4,718.1 L1159.7,718.3 L1161.0,717.9 L1162.4,717.3 L1163.7,717.9 L1165.0,716.9 L1166.3,716.8 L1167.6,717.2 L1168.9,716.3 L1170.2,717.5 L1171.5,715.9 L1172.8,717.5 L1174.1,716.2 L1175.4,715.8 L1176.7,717.9 L1178.0,716.2 L1179.3,717.8 L1180.7,717.6 L1182.0,717.6 L1183.3,715.8 L1184.6,716.5 L1185.9,715.6 L1187.2,717.6 L1188.5,717.3 L1189.8,716.8 L1191.1,716.4 L1192.4,716.0 L1193.7,715.5 L1195.0,716.4 L1196.3,715.3 L1197.6,715.4 L1198.9,714.0 L1200.2,713.9 L1201.5,713.3 L1202.8,714.6 L1204.1,713.9 L1205.4,712.7 L1206.7,713.3 L1208.1,714.5 L1209.5,713.4 L1210.9,714.1 L1212.3,713.9 L1213.7,714.5 L1215.1,716.2 L1216.5,715.3 L1217.9,715.3 L1219.3,716.4 L1220.7,715.8 L1222.0,714.8 L1223.4,715.6 L1224.8,713.1 L1226.2,714.6 L1227.5,711.8 L1228.9,713.2 L1230.3,711.7 L1231.6,712.0 L1232.9,710.9 L1234.3,711.5 L1235.6,711.0 L1236.9,710.8 L1238.2,710.6 L1239.6,711.0 L1240.9,712.4 L1242.2,712.4 L1243.5,712.1 L1244.9,710.1 L1246.2,710.5 L1247.5,711.9 L1248.8,709.8 L1250.1,711.4 L1251.5,710.3 L1252.8,711.9 L1254.1,709.5 L1255.4,711.3 L1256.8,710.2 L1258.1,709.6 L1259.4,709.2 L1260.7,711.2 L1262.1,710.4 L1263.4,709.5 L1264.7,710.2 L1266.1,710.2 L1267.4,711.5 L1268.8,710.0 L1270.1,711.0 L1271.5,710.1 L1272.9,710.4 L1274.2,711.9 L1275.6,711.9 L1276.9,710.9 L1278.3,710.7 L1279.7,710.9 L1281.0,712.3 L1282.4,712.2 L1283.7,711.8 L1285.1,712.5 L1286.4,711.3 L1287.7,711.9 L1289.0,711.6 L1290.3,711.4 L1291.6,710.4 L1292.9,709.0 L1294.3,708.2 L1295.6,709.4 L1296.9,708.2 L1298.2,708.4 L1299.5,706.4 L1300.8,707.0 L1302.1,707.8 L1303.4,706.7 L1304.7,708.0 L1306.0,708.1 L1307.3,707.2 L1308.6,706.1 L1309.9,708.3 L1311.2,707.3 L1312.5,708.3 L1313.9,706.9 L1315.2,706.7 L1316.5,708.3 L1317.8,707.3 L1319.1,706.8 L1320.4,707.4 L1321.7,707.9 L1323.0,706.6 L1324.3,707.8 L1325.7,707.6 L1327.0,707.1 L1328.4,707.0 L1329.8,705.7 L1331.2,706.9 L1332.5,706.8 L1333.9,706.7 L1335.3,705.5 L1336.7,705.4 L1338.1,706.7 L1339.5,706.2 L1340.9,707.5 L1342.2,706.2 L1343.6,708.5 L1345.0,709.0 L1346.4,708.2 L1347.8,708.6 L1349.2,708.1 L1350.5,707.7 L1351.9,707.2 L1353.3,705.5 L1354.7,707.3 L1356.0,705.0 L1357.4,704.4 L1358.8,704.7 L1360.1,703.7 L1361.5,704.0 L1362.8,705.3 L1364.2,703.4 L1365.5,703.5 L1366.9,704.9 L1368.2,703.7 L1369.5,703.2 L1370.9,704.6 L1372.2,704.5 L1373.6,704.3 L1374.9,704.7 L1376.3,703.3 L1377.6,705.1 L1378.9,704.6 L1380.3,703.0 L1381.6,703.1 L1383.0,704.0 L1384.3,704.0 L1385.7,703.4 L1387.0,703.9 L1388.3,702.9 L1389.6,703.5 L1390.9,702.7 L1392.2,703.7 L1393.5,704.2 L1394.8,702.4 L1396.1,703.3 L1397.4,703.6 L1398.8,702.1 L1400.1,703.6 L1401.4,703.8 L1402.7,702.3 L1404.0,702.3 L1405.3,703.2 L1406.6,702.3 L1407.9,701.9 L1409.2,703.1 L1410.5,702.6 L1411.8,701.5 L1413.1,701.1 L1414.4,701.2 L1415.7,701.4 L1417.0,702.6 L1418.3,702.0 L1419.6,702.2 L1420.9,701.8 L1422.2,701.8 L1423.6,699.8 L1424.9,700.8 L1426.2,701.7 L1427.5,701.6 L1428.8,699.8 L1430.1,700.1 L1431.4,700.5 L1432.7,699.8 L1434.0,700.0 L1435.3,700.1 L1436.6,699.0 L1437.9,699.8 L1439.2,700.0 L1440.5,698.8 L1441.8,699.1 L1443.2,701.1 L1444.5,700.7 L1445.8,701.0 L1447.1,700.3 L1448.4,700.7 L1449.7,700.9 L1451.0,700.9 L1452.3,698.9 L1453.6,700.3 L1454.9,699.4 L1456.2,700.4 L1457.6,699.5 L1458.9,700.1 L1460.2,701.0 L1461.5,700.3 L1462.8,699.4 L1464.1,700.0 L1465.4,700.0 L1466.7,699.6 L1468.0,700.7 L1469.3,698.9 L1470.6,698.7 L1471.9,699.4 L1473.2,697.9 L1474.6,698.8 L1475.9,699.5 L1477.2,698.2 L1478.5,697.4 L1479.8,697.7 L1481.1,697.6 L1482.4,697.6 L1483.7,696.7 L1485.0,696.6 L1486.3,696.5 L1487.6,696.9 L1488.9,697.1 L1490.2,696.8 L1491.5,696.6 L1492.8,696.2 L1494.2,697.3 L1495.5,697.9 L1496.8,697.3 L1498.1,697.2 L1499.4,697.3 L1500.7,696.2 L1502.0,697.4 L1503.3,696.8 L1504.6,696.8 L1506.0,696.5 L1507.4,696.2 L1508.8,695.4 L1510.2,694.6 L1511.5,694.0 L1512.9,693.5 L1514.3,693.8 L1515.7,693.1 L1517.1,692.9 L1518.5,693.5 L1519.8,692.5 L1521.2,693.7 L1522.6,695.4 L1524.0,694.3 L1525.3,695.4 L1526.7,695.7 L1528.1,696.1 L1529.4,695.5 L1530.7,697.0 L1532.0,695.2 L1533.3,696.2 L1534.6,694.6 L1535.9,694.3 L1537.3,696.1 L1538.6,694.9 L1539.9,693.8 L1541.2,694.5 L1542.5,694.5 L1543.8,694.5 L1545.1,694.8 L1546.5,693.0 L1547.8,693.0 L1549.2,694.5 L1550.5,693.7 L1551.9,692.0 L1553.2,692.2 L1554.5,691.9 L1555.9,692.4 L1557.2,692.0 L1558.6,692.3 L1559.9,691.9 L1561.3,690.9 L1562.6,690.6 L1563.9,691.4 L1565.2,691.6 L1566.5,691.8 L1567.8,691.3 L1569.1,692.2 L1570.4,692.3 L1571.7,692.9 L1573.0,691.2 L1574.3,693.2 L1575.6,691.3 L1576.9,693.3 L1578.2,692.9 L1579.5,692.8 L1580.9,692.2 L1582.2,693.0 L1583.6,691.7 L1585.0,691.0 L1586.3,691.6 L1587.7,691.4 L1589.0,690.5 L1590.3,689.6 L1591.7,689.4 L1593.0,689.1 L1594.4,689.4 L1595.8,688.0 L1597.1,688.2 L1598.4,688.0 L1599.7,688.4 L1601.0,688.0 L1602.4,687.9 L1603.7,689.1 L1605.0,689.3 L1606.3,688.5 L1607.6,688.4 L1608.9,687.8 L1610.3,688.1 L1611.6,687.7 L1612.9,688.8 L1614.2,688.9 L1615.5,687.7 L1616.8,689.7 L1618.2,688.4 L1619.5,689.6 L1620.8,689.7 L1622.1,690.0 L1623.4,688.2 L1624.7,688.8 L1626.1,690.0 L1627.4,687.9 L1628.7,688.0 L1630.0,689.1 L1631.3,689.1 L1632.6,688.8 L1634.0,689.7 L1635.3,689.2 L1636.6,688.5 L1637.9,689.5 L1639.3,688.2 L1640.6,688.1 L1641.9,688.4 L1643.2,687.5 L1644.6,687.3 L1645.9,687.8 L1647.2,687.4 L1648.5,686.8 L1649.9,688.0 L1651.2,687.2 L1652.5,686.6 L1653.9,685.3 L1655.2,685.8 L1656.5,685.6 L1657.8,685.8 L1659.2,685.6 L1660.5,686.1 L1661.8,686.1 L1663.2,684.7 L1664.5,684.5 L1665.9,684.3 L1667.2,684.7 L1668.6,685.6 L1669.9,684.0 L1671.3,684.4 L1672.6,685.0 L1674.0,683.5 L1675.3,683.8 L1676.7,685.3 L1678.0,684.9 L1679.4,684.1 L1680.7,683.1 L1682.1,685.0 L1683.4,684.5 L1684.8,684.7 L1686.1,685.1 L1687.5,683.9 L1688.8,684.9 L1690.1,683.9 L1691.5,683.4 L1692.8,683.8 L1694.1,684.4 L1695.4,684.5 L1696.8,683.8 L1698.1,683.9 L1699.4,685.0 L1700.7,685.1 L1702.1,684.6 L1703.4,686.2 L1704.7,685.1 L1706.1,685.2 L1707.4,683.5 L1708.8,684.1 L1710.1,684.7 L1711.5,683.3 L1712.8,683.9 L1714.2,682.0 L1715.5,682.5 L1716.9,683.5 L1718.2,682.6 L1719.6,682.5 L1720.9,681.1 L1722.3,681.6 L1723.6,681.4 L1725.0,680.5 L1726.3,681.1 L1727.7,680.5 L1729.1,680.4 L1730.6,681.4 L1732.0,680.2 L1733.5,679.7 L1734.9,678.8 L1736.3,678.8 L1737.8,680.1 L1739.2,679.3 L1740.5,678.9 L1741.9,679.5 L1743.2,680.3 L1744.5,681.7 L1745.9,683.0 L1747.2,682.8 L1748.6,683.0 L1750.0,683.4 L1751.3,681.5 L1752.7,681.3 L1754.1,683.0 L1755.5,681.9 L1756.9,682.8 L1758.2,681.8 L1759.6,681.3 L1761.0,681.4 L1762.4,681.0 L1763.8,682.8 L1765.1,682.0 L1766.5,681.3 L1767.9,681.6 L1769.3,681.4 L1770.6,681.2 L1772.0,680.3 L1773.3,682.3 L1774.7,681.5 L1776.0,682.3 L1777.4,681.0 L1778.7,681.4 L1780.1,680.4 L1781.4,679.9 L1782.8,681.9 L1784.1,681.7 L1785.5,680.3 L1786.8,681.7 L1788.2,681.4 L1789.5,680.1 L1790.9,680.5 L1792.2,680.7 L1793.6,681.6 L1794.9,680.5 L1796.2,681.6 L1797.6,679.9 L1798.9,680.2 L1800.2,681.0 L1801.5,679.8 L1802.9,680.0 L1804.2,681.4 L1805.5,680.5 L1806.9,681.2 L1808.2,680.5 L1809.5,679.7 L1810.9,679.4 L1812.2,679.7 L1813.5,679.2 L1814.9,680.9 L1816.2,679.2 L1817.5,679.7 L1818.9,678.5 L1820.2,679.3 L1821.5,678.8 L1822.9,678.7 L1824.2,677.8 L1825.5,677.8 L1826.8,679.3 L1828.2,678.0 L1829.5,677.6 L1830.8,677.4 L1832.2,677.5 L1833.5,677.2 L1834.8,676.6 L1836.2,678.0 L1837.5,677.0 L1838.8,676.5 L1840.2,677.6 L1841.5,677.0" fill="none" stroke="#f03237" stroke-width="5.6" stroke-linejoin="round" stroke-linecap="butt"/><path d="M187.5,718.0 L189.7,718.0 L191.0,716.9 L192.4,717.6 L193.7,719.6 L195.1,717.5 L196.4,718.6 L197.8,720.1 L199.1,720.1 L200.4,718.2 L201.8,719.0 L203.1,720.4 L204.5,719.4 L205.8,721.4 L207.2,719.2 L208.5,720.3 L209.8,721.9 L211.1,720.6 L212.4,719.8 L213.7,720.7 L215.0,719.8 L216.3,721.8 L217.6,720.5 L218.9,722.6 L220.2,721.8 L221.6,721.2 L222.9,721.0 L224.2,722.2 L225.5,721.1 L226.8,723.4 L228.1,721.1 L229.4,722.5 L230.7,722.7 L232.0,722.7 L233.4,722.0 L234.7,723.7 L236.1,722.5 L237.4,723.4 L238.8,723.1 L240.2,722.4 L241.5,722.7 L242.9,721.7 L244.2,722.1 L245.6,724.3 L247.0,722.6 L248.3,723.8 L249.7,722.1 L251.0,723.6 L252.4,723.4 L254.0,723.8 L255.6,725.0 L257.1,725.2 L258.7,726.6 L260.1,725.0 L261.5,725.6 L262.9,725.2 L264.3,724.7 L265.6,726.4 L267.0,724.8 L268.4,725.0 L269.8,726.5 L271.2,725.0 L272.5,726.1 L273.8,726.7 L275.1,726.9 L276.4,724.9 L277.7,725.6 L279.0,725.1 L280.3,727.4 L281.6,727.6 L282.9,726.9 L284.3,727.3 L285.6,728.4 L286.9,728.8 L288.2,727.6 L289.5,729.8 L290.8,728.4 L292.1,729.6 L293.4,728.4 L294.7,729.7 L296.0,728.5 L297.3,731.1 L298.6,730.5 L299.9,730.5 L301.2,728.4 L302.5,728.4 L303.8,728.9 L305.1,729.0 L306.4,729.4 L307.7,729.7 L309.0,728.6 L310.4,729.5 L311.7,730.6 L313.0,729.1 L314.3,731.3 L315.6,730.5 L316.9,731.0 L318.2,729.5 L319.5,730.1 L320.8,731.0 L322.1,729.9 L323.4,728.8 L324.7,731.5 L326.0,730.5 L327.3,731.4 L328.6,729.8 L329.9,729.0 L331.2,731.6 L332.5,730.8 L333.9,729.1 L335.2,729.7 L336.5,729.3 L337.8,731.4 L339.1,729.6 L340.4,731.8 L341.7,731.3 L343.0,729.2 L344.3,731.1 L345.6,730.2 L346.9,731.3 L348.2,731.6 L349.5,729.8 L350.9,729.2 L352.2,731.9 L353.5,730.3 L354.8,731.9 L356.1,731.1 L357.4,730.5 L358.7,731.1 L360.0,731.3 L361.3,730.5 L362.6,729.8 L363.9,728.4 L365.2,729.7 L366.5,730.3 L367.8,729.3 L369.1,729.5 L370.4,730.7 L371.8,728.1 L373.1,730.0 L374.4,727.7 L375.7,729.7 L377.0,729.9 L378.3,728.1 L379.6,728.9 L380.9,730.2 L382.2,729.1 L383.6,728.7 L384.9,727.6 L386.2,727.0 L387.5,727.8 L388.8,728.2 L390.2,727.3 L391.6,726.1 L393.1,725.9 L394.5,724.7 L395.9,726.0 L397.3,725.3 L398.7,723.4 L400.1,722.8 L401.6,723.1 L403.0,722.3 L404.4,721.9 L405.7,723.3 L407.1,721.4 L408.4,721.3 L409.8,723.1 L411.1,720.8 L412.5,722.1 L413.8,721.4 L415.1,722.9 L416.5,722.1 L417.8,722.7 L419.2,720.8 L420.5,722.4 L421.9,722.2 L423.2,721.9 L424.5,721.1 L425.8,721.4 L427.1,721.0 L428.4,718.0 L429.7,717.9 L431.0,717.5 L432.4,716.4 L433.7,715.2 L435.0,715.3 L436.3,714.3 L437.6,715.3 L438.9,714.0 L440.3,713.7 L441.7,712.4 L443.1,712.9 L444.5,713.2 L445.9,712.7 L447.3,711.9 L448.7,711.5 L450.1,711.1 L451.5,712.5 L452.8,712.6 L454.1,710.4 L455.4,706.9 L456.7,707.5 L458.0,706.9 L459.3,703.9 L460.7,704.0 L462.1,702.5 L463.5,703.6 L464.9,703.3 L466.2,702.5 L467.6,703.5 L469.0,701.7 L470.4,704.5 L471.8,703.1 L473.1,701.5 L474.4,699.3 L475.8,698.2 L477.1,695.2 L478.4,691.8 L479.7,690.5 L481.1,688.5 L482.5,688.2 L483.8,687.7 L485.2,688.0 L486.5,691.1 L487.9,692.0 L489.2,690.9 L490.6,691.2 L491.9,692.9 L493.2,692.7 L494.6,692.7 L495.9,692.3 L497.3,689.2 L498.6,690.5 L500.0,689.9 L501.3,688.2 L502.9,685.0 L504.4,679.8 L506.0,676.4 L507.3,674.5 L508.6,675.6 L509.9,673.1 L511.3,672.3 L512.6,672.0 L513.9,670.9 L515.2,671.4 L516.6,673.8 L517.9,672.8 L519.3,673.0 L520.6,675.6 L522.0,676.7 L523.3,677.2 L524.7,677.8 L526.1,677.0 L527.5,677.2 L528.9,676.9 L530.2,675.0 L531.6,674.6 L533.0,673.1 L534.4,673.1 L535.8,673.3 L537.4,674.1 L539.0,673.1 L540.5,675.6 L542.1,675.6 L543.5,673.4 L544.9,673.2 L546.3,673.7 L547.7,669.8 L549.0,668.5 L550.4,668.6 L551.8,666.7 L553.2,667.2 L554.6,665.4 L556.2,664.4 L557.8,667.7 L559.3,668.3 L560.9,667.8 L562.3,667.1 L563.6,664.4 L565.0,662.4 L566.4,662.0 L567.8,660.0 L569.1,658.1 L570.5,656.3 L571.9,655.2 L573.3,655.4 L574.7,656.5 L576.1,657.4 L577.5,658.1 L579.0,656.1 L580.4,656.9 L581.8,657.8 L583.2,658.6 L584.6,658.3 L586.0,659.2 L587.6,656.2 L589.1,653.8 L590.7,652.5 L592.2,650.9 L593.8,649.0 L595.2,650.5 L596.6,650.3 L598.0,650.2 L599.4,650.5 L600.8,650.5 L602.3,649.4 L603.7,650.0 L605.1,647.6 L606.5,649.6 L607.9,649.0 L609.3,648.0 L610.6,645.6 L612.0,645.1 L613.4,644.9 L614.8,642.1 L616.1,641.2 L617.5,638.7 L618.9,638.0 L620.3,636.6 L621.7,637.4 L623.1,633.7 L624.5,633.2 L626.0,633.9 L627.4,632.2 L628.8,630.1 L630.2,631.0 L631.6,629.1 L633.0,628.6 L634.3,629.3 L635.7,629.2 L637.0,630.0 L638.4,630.6 L639.7,630.5 L641.1,630.0 L642.4,631.7 L643.8,631.3 L645.2,634.2 L646.6,633.7 L648.0,632.9 L649.4,635.9 L650.8,634.6 L652.2,634.7 L653.6,636.7 L655.0,637.2 L656.3,635.5 L657.6,635.3 L658.9,634.6 L660.2,632.7 L661.5,632.8 L662.8,630.5 L664.1,630.8 L665.4,630.1 L666.7,627.6 L668.0,627.7 L669.3,625.8 L670.6,626.2 L671.9,626.1 L673.3,627.5 L674.6,626.5 L676.0,627.1 L677.3,627.3 L678.7,625.3 L680.0,628.2 L681.3,627.4 L682.7,625.4 L684.0,627.8 L685.4,626.5 L686.7,625.8 L688.1,628.4 L689.4,627.0 L691.0,625.5 L692.5,624.4 L694.1,620.6 L695.7,620.0 L697.0,621.0 L698.3,618.8 L699.7,619.5 L701.0,620.1 L702.3,619.0 L703.6,621.0 L705.0,619.9 L706.3,620.3 L707.6,621.7 L708.9,620.9 L710.3,622.5 L711.6,621.8 L712.9,621.5 L714.2,622.1 L715.5,620.5 L716.8,621.0 L718.1,620.3 L719.5,617.4 L720.8,618.7 L722.1,616.8 L723.4,617.5 L724.7,616.6 L726.0,616.5 L727.3,613.6 L728.6,613.8 L729.9,614.4 L731.3,614.5 L732.6,613.1 L733.9,610.4 L735.2,611.5 L736.5,610.6 L738.1,609.8 L739.6,611.7 L741.2,612.9 L742.7,611.2 L744.3,612.9 L745.7,613.1 L747.1,611.2 L748.5,608.7 L749.9,607.4 L751.2,607.1 L752.6,607.2 L754.0,605.2 L755.4,602.6 L756.8,602.7 L758.2,602.0 L759.5,603.1 L760.9,606.1 L762.3,605.0 L763.7,607.0 L765.0,607.0 L766.4,609.1 L767.8,609.3 L769.2,608.1 L770.5,606.5 L771.9,608.0 L773.2,606.1 L774.6,605.7 L776.0,605.3 L777.3,604.9 L778.7,601.1 L780.0,601.3 L781.4,599.8 L782.8,600.1 L784.1,600.5 L785.5,599.4 L786.8,596.1 L788.2,596.8 L789.6,596.0 L791.0,598.2 L792.3,598.0 L793.7,597.3 L795.1,597.7 L796.5,596.9 L797.8,599.3 L799.2,598.4 L800.8,597.1 L802.3,597.7 L803.9,595.9 L805.4,593.3 L807.0,593.7 L808.3,593.2 L809.6,592.8 L810.9,595.0 L812.2,594.0 L813.5,592.2 L814.9,592.6 L816.2,593.3 L817.5,593.6 L818.8,593.9 L820.1,593.3 L821.4,593.2 L822.7,593.7 L824.3,590.9 L825.8,591.4 L827.4,589.4 L828.9,587.1 L830.5,587.4 L831.8,587.3 L833.1,589.0 L834.4,585.9 L835.7,586.3 L837.0,587.9 L838.3,586.7 L839.6,586.7 L840.9,587.4 L842.2,586.6 L843.6,587.6 L844.9,587.5 L846.2,588.9 L847.5,589.0 L848.8,585.9 L850.1,587.6 L851.4,588.3 L852.7,588.6 L854.0,587.4 L855.3,588.0 L856.6,587.2 L857.9,586.9 L859.2,585.7 L860.5,585.1 L861.9,586.4 L863.2,586.3 L864.5,586.2 L865.8,585.1 L867.1,583.5 L868.4,584.7 L869.7,583.5 L871.1,583.9 L872.5,582.8 L873.9,582.9 L875.3,581.6 L876.7,581.9 L878.1,581.1 L879.5,579.6 L880.9,580.1 L882.3,580.3 L883.7,580.0 L885.0,582.5 L886.4,581.1 L887.8,581.1 L889.1,581.0 L890.5,581.3 L891.8,581.9 L893.2,582.7 L894.5,580.5 L895.8,579.0 L897.2,580.7 L898.5,578.4 L899.8,577.3 L901.1,576.4 L902.5,576.7 L903.9,575.9 L905.3,575.6 L906.7,575.4 L908.0,576.2 L909.4,576.3 L910.8,577.7 L912.2,577.3 L913.6,577.2 L915.0,577.9 L916.4,575.3 L917.7,576.5 L919.1,574.7 L920.5,572.4 L921.9,572.0 L923.2,572.6 L924.6,571.7 L926.0,573.7 L927.3,572.2 L928.7,574.0 L930.0,573.4 L931.4,575.3 L932.8,573.2 L934.1,575.1 L935.5,575.6 L937.1,575.3 L938.7,571.7 L940.3,570.9 L941.7,570.1 L943.0,569.4 L944.4,569.8 L945.7,570.2 L947.1,571.6 L948.4,570.0 L949.8,570.6 L951.1,569.9 L952.5,571.2 L953.8,572.1 L955.2,571.4 L956.5,569.9 L957.9,571.6 L959.2,572.4 L960.6,570.9 L962.0,570.7 L963.4,568.6 L964.7,570.4 L966.1,570.2 L967.5,568.0 L968.9,566.8 L970.2,566.5 L971.6,567.0 L972.9,566.9 L974.2,567.7 L975.5,566.7 L976.8,567.3 L978.1,564.8 L979.5,564.9 L980.8,566.0 L982.1,565.4 L983.4,564.4 L984.7,565.0 L986.0,563.6 L987.3,563.9 L988.6,562.4 L989.9,563.5 L991.2,562.2 L992.5,564.0 L993.8,563.0 L995.1,563.5 L996.4,563.7 L997.7,562.6 L999.0,563.2 L1000.3,561.7 L1001.6,564.5 L1003.0,563.3 L1004.3,564.6 L1005.6,561.5 L1006.9,563.3 L1008.2,563.6 L1009.5,562.2 L1010.8,561.4 L1012.1,561.5 L1013.4,561.4 L1014.7,563.4 L1016.0,561.1 L1017.3,563.4 L1018.6,562.3 L1019.9,561.7 L1021.2,561.6 L1022.5,561.4 L1023.8,560.9 L1025.1,560.8 L1026.5,560.3 L1027.8,559.0 L1029.1,559.9 L1030.4,558.0 L1031.7,559.1 L1033.0,558.8 L1034.3,557.6 L1035.6,558.5 L1036.9,557.0 L1038.2,558.4 L1039.5,559.1 L1040.8,557.4 L1042.2,556.8 L1043.5,557.6 L1044.8,558.9 L1046.1,556.3 L1047.4,555.9 L1048.7,557.3 L1050.0,557.4 L1051.3,557.8 L1052.6,558.0 L1053.9,556.6 L1055.2,558.4 L1056.5,555.9 L1057.8,557.4 L1059.1,555.2 L1060.4,554.9 L1061.7,555.1 L1063.0,554.7 L1064.3,556.0 L1065.7,556.0 L1067.0,554.7 L1068.3,557.0 L1069.6,555.0 L1070.9,554.2 L1072.2,554.2 L1073.5,555.8 L1074.8,556.3 L1076.1,553.7 L1077.4,553.2 L1078.7,555.4 L1080.0,553.6 L1081.3,554.3 L1082.6,555.6 L1083.9,553.8 L1085.2,553.9 L1086.5,552.7 L1087.8,553.9 L1089.2,552.6 L1090.5,551.9 L1091.8,553.5 L1093.1,550.6 L1094.4,552.4 L1095.7,550.0 L1097.0,551.1 L1098.3,551.6 L1099.6,550.9 L1100.9,552.5 L1102.2,550.0 L1103.5,551.6 L1104.8,551.2 L1106.2,552.9 L1107.5,553.1 L1108.8,552.1 L1110.1,550.9 L1111.4,551.0 L1112.7,551.1 L1114.0,551.8 L1115.3,551.2 L1116.6,551.2 L1117.9,553.0 L1119.2,552.7 L1120.6,551.7 L1121.9,553.9 L1123.2,551.5 L1124.5,552.7 L1125.8,551.5 L1127.1,553.8 L1128.4,552.7 L1130.0,552.9 L1131.5,550.1 L1133.1,550.7 L1134.6,550.0 L1136.2,548.0 L1137.6,547.8 L1139.0,548.4 L1140.3,549.4 L1141.7,551.2 L1143.1,549.4 L1144.5,551.5 L1145.8,551.7 L1147.2,551.9 L1148.5,551.6 L1149.9,551.8 L1151.2,552.6 L1152.6,550.2 L1153.9,552.2 L1155.3,550.3 L1156.6,551.5 L1157.9,551.6 L1159.3,549.2 L1160.6,551.2 L1162.0,551.4 L1163.3,549.0 L1164.7,548.0 L1166.0,548.1 L1167.3,550.6 L1168.7,547.4 L1170.0,550.1 L1171.4,547.4 L1172.7,549.1 L1174.1,546.9 L1175.4,548.0 L1176.7,546.9 L1178.0,548.5 L1179.3,546.5 L1180.6,547.2 L1181.9,549.0 L1183.2,548.3 L1184.5,548.8 L1185.8,549.0 L1187.1,545.9 L1188.4,546.5 L1189.7,548.2 L1191.1,547.8 L1192.4,545.7 L1193.7,547.1 L1195.0,546.1 L1196.3,546.7 L1197.6,545.6 L1198.9,545.3 L1200.2,548.3 L1201.5,546.1 L1202.8,547.8 L1204.1,545.3 L1205.4,546.4 L1206.7,546.4 L1208.0,545.0 L1209.3,545.8 L1210.6,544.8 L1211.9,546.2 L1213.2,544.3 L1214.5,546.0 L1215.9,545.0 L1217.2,543.6 L1218.5,544.2 L1219.8,544.4 L1221.1,545.6 L1222.4,543.6 L1223.7,542.9 L1225.0,545.2 L1226.3,544.7 L1227.6,544.0 L1228.9,542.3 L1230.2,541.8 L1231.6,541.9 L1232.9,541.1 L1234.2,540.8 L1235.5,542.1 L1236.8,541.6 L1238.1,541.7 L1239.4,541.1 L1240.7,539.7 L1242.0,537.8 L1243.3,539.2 L1244.6,538.3 L1245.9,537.0 L1247.2,537.1 L1248.5,537.1 L1249.8,537.5 L1251.1,538.4 L1252.4,538.0 L1253.7,537.4 L1255.0,536.4 L1256.3,536.1 L1257.7,536.3 L1259.0,538.1 L1260.3,536.1 L1261.6,536.1 L1262.9,536.1 L1264.2,535.2 L1265.5,537.9 L1266.8,534.7 L1268.1,536.6 L1269.4,536.2 L1270.7,537.8 L1272.0,535.8 L1273.3,537.2 L1274.6,536.6 L1275.9,536.4 L1277.2,536.4 L1278.6,536.4 L1279.9,538.9 L1281.2,538.9 L1282.5,539.5 L1283.8,537.0 L1285.1,538.6 L1286.4,538.8 L1287.7,537.1 L1289.0,537.7 L1290.3,536.9 L1291.6,535.7 L1292.9,537.4 L1294.3,533.8 L1295.6,535.7 L1296.9,535.6 L1298.2,534.0 L1299.5,533.9 L1300.8,533.1 L1302.1,534.6 L1303.4,532.2 L1304.7,533.4 L1306.0,533.7 L1307.3,532.5 L1308.6,533.6 L1309.9,532.5 L1311.2,532.9 L1312.5,533.2 L1313.8,533.3 L1315.1,532.2 L1316.4,533.1 L1317.8,532.8 L1319.1,531.7 L1320.4,533.0 L1321.7,531.8 L1323.0,533.8 L1324.3,532.4 L1325.6,533.2 L1326.9,532.5 L1328.2,532.3 L1329.5,531.5 L1330.8,531.2 L1332.1,532.3 L1333.4,533.7 L1334.7,532.5 L1336.0,532.6 L1337.4,532.7 L1338.7,533.6 L1340.0,532.7 L1341.6,531.1 L1343.1,530.1 L1344.7,531.4 L1346.2,529.5 L1347.8,528.8 L1349.1,529.3 L1350.4,529.9 L1351.7,530.2 L1353.0,530.2 L1354.3,527.6 L1355.6,528.7 L1356.9,530.2 L1358.2,530.2 L1359.5,528.0 L1360.9,528.1 L1362.2,528.5 L1363.5,528.1 L1364.8,528.9 L1366.1,530.4 L1367.4,529.5 L1368.7,529.4 L1370.0,528.2 L1371.3,529.6 L1372.6,529.1 L1373.9,530.9 L1375.2,529.8 L1376.5,528.8 L1377.8,528.8 L1379.2,529.6 L1380.5,529.4 L1381.8,527.3 L1383.1,528.8 L1384.4,527.6 L1385.7,528.0 L1387.0,526.9 L1388.3,527.2 L1389.6,526.9 L1390.9,526.9 L1392.2,525.6 L1393.5,526.0 L1394.8,527.1 L1396.2,525.3 L1397.5,525.5 L1398.8,527.1 L1400.1,525.5 L1401.4,525.5 L1402.7,525.1 L1404.0,526.8 L1405.3,524.3 L1406.6,525.9 L1407.9,526.5 L1409.2,524.2 L1410.6,524.8 L1411.9,525.8 L1413.2,525.1 L1414.5,524.1 L1415.8,522.9 L1417.1,524.1 L1418.4,524.1 L1419.8,524.0 L1421.2,525.3 L1422.7,524.3 L1424.1,524.9 L1425.5,526.0 L1426.9,526.8 L1428.3,525.6 L1429.7,526.0 L1431.2,526.9 L1432.6,528.3 L1434.0,527.2 L1435.3,525.4 L1436.6,527.1 L1438.0,525.5 L1439.3,523.7 L1440.6,523.8 L1441.9,522.5 L1443.2,521.9 L1444.5,521.1 L1445.8,523.3 L1447.1,522.0 L1448.4,522.5 L1449.7,522.4 L1451.0,523.7 L1452.3,523.2 L1453.6,520.8 L1454.9,522.6 L1456.3,522.2 L1457.6,522.2 L1458.9,523.3 L1460.2,522.0 L1461.5,522.1 L1462.8,523.4 L1464.1,522.0 L1465.4,522.1 L1466.7,522.2 L1468.0,523.2 L1469.3,522.6 L1470.6,522.9 L1471.9,521.7 L1473.2,520.6 L1474.5,522.6 L1475.8,522.2 L1477.1,522.8 L1478.4,522.8 L1479.7,520.7 L1481.0,521.0 L1482.3,520.6 L1483.7,522.9 L1485.0,520.6 L1486.3,520.5 L1487.6,522.6 L1488.9,522.0 L1490.2,520.4 L1491.5,522.4 L1492.8,522.4 L1494.1,521.7 L1495.4,520.3 L1496.7,521.7 L1498.0,522.4 L1499.3,521.5 L1500.6,522.1 L1501.9,523.5 L1503.2,522.9 L1504.5,523.2 L1505.8,520.9 L1507.1,521.5 L1508.5,522.2 L1509.8,520.6 L1511.1,523.8 L1512.4,521.5 L1513.7,521.5 L1515.0,521.7 L1516.3,521.6 L1517.6,523.6 L1518.9,522.6 L1520.2,522.5 L1521.5,522.0 L1522.8,521.2 L1524.1,519.5 L1525.4,519.8 L1526.7,521.0 L1528.1,520.3 L1529.4,520.0 L1530.7,517.5 L1532.0,516.8 L1533.3,515.8 L1534.6,516.8 L1535.9,516.2 L1537.2,515.7 L1538.5,516.0 L1539.8,516.0 L1541.1,516.3 L1542.4,515.5 L1543.7,516.9 L1545.0,514.9 L1546.4,517.1 L1547.7,515.9 L1549.0,514.3 L1550.3,515.1 L1551.6,515.7 L1552.9,515.3 L1554.2,515.7 L1555.5,514.9 L1556.8,514.7 L1558.1,516.3 L1559.4,514.6 L1560.7,515.9 L1562.0,516.2 L1563.3,515.4 L1564.6,515.0 L1566.0,516.4 L1567.3,514.8 L1568.6,516.2 L1569.9,513.5 L1571.2,514.6 L1572.5,515.2 L1573.8,513.3 L1575.1,514.7 L1576.4,516.0 L1577.7,513.6 L1579.0,515.4 L1580.3,514.2 L1581.6,516.7 L1582.9,515.7 L1584.2,516.6 L1585.5,515.7 L1586.8,516.4 L1588.2,516.5 L1589.5,515.4 L1590.8,515.3 L1592.1,517.4 L1593.4,515.4 L1594.7,518.0 L1596.0,515.8 L1597.3,515.6 L1598.6,517.0 L1599.9,514.7 L1601.2,515.8 L1602.5,515.3 L1603.9,512.6 L1605.2,512.3 L1606.5,510.8 L1607.9,509.9 L1609.3,511.8 L1610.8,511.0 L1612.2,509.1 L1613.6,508.7 L1615.0,510.6 L1616.4,508.3 L1617.8,510.7 L1619.3,508.8 L1620.7,508.5 L1622.1,509.2 L1623.4,510.1 L1624.7,509.8 L1626.0,511.2 L1627.4,510.5 L1628.7,513.5 L1630.0,512.8 L1631.3,512.2 L1632.6,513.8 L1633.9,511.6 L1635.3,513.6 L1636.6,514.1 L1637.9,512.2 L1639.2,512.5 L1640.7,509.7 L1642.3,509.4 L1643.8,508.5 L1645.1,509.0 L1646.5,507.6 L1647.8,508.6 L1649.2,507.2 L1650.5,508.4 L1651.8,509.2 L1653.2,508.3 L1654.5,509.1 L1655.9,507.3 L1657.2,509.6 L1658.6,507.3 L1659.9,509.9 L1661.2,510.1 L1662.6,509.9 L1663.9,508.6 L1665.3,507.8 L1666.6,508.0 L1668.0,509.3 L1669.3,508.5 L1670.6,509.9 L1672.0,507.2 L1673.3,508.5 L1674.7,509.7 L1676.0,508.5 L1677.4,508.0 L1678.8,506.9 L1680.3,504.6 L1681.7,505.1 L1683.0,503.9 L1684.3,504.4 L1685.7,506.4 L1687.0,506.2 L1688.3,504.2 L1689.6,506.5 L1690.9,503.6 L1692.2,505.4 L1693.5,506.6 L1694.9,504.6 L1696.2,506.5 L1697.5,505.6 L1698.8,503.7 L1700.1,504.6 L1701.5,504.9 L1702.8,504.3 L1704.1,505.9 L1705.4,504.1 L1706.7,506.0 L1708.0,504.5 L1709.4,503.7 L1710.7,505.3 L1712.0,503.8 L1713.3,505.3 L1714.6,506.0 L1715.9,505.4 L1717.2,505.0 L1718.6,503.6 L1719.9,505.1 L1721.2,503.8 L1722.5,505.6 L1723.8,503.9 L1725.2,505.3 L1726.5,504.6 L1727.8,504.7 L1729.1,505.6 L1730.4,504.0 L1731.7,504.0 L1733.1,506.5 L1734.4,504.6 L1735.7,506.2 L1737.0,506.3 L1738.3,505.0 L1739.6,504.0 L1741.0,503.8 L1742.3,506.3 L1743.6,503.9 L1744.9,505.1 L1746.3,505.0 L1747.7,505.1 L1749.0,503.6 L1750.4,504.7 L1751.8,503.6 L1753.2,504.7 L1754.6,504.6 L1755.9,504.0 L1757.3,503.4 L1758.7,504.0 L1760.1,503.3 L1761.5,502.9 L1762.8,503.2 L1764.2,505.2 L1765.6,503.9 L1767.1,502.4 L1768.7,502.1 L1770.2,499.3 L1771.6,498.3 L1773.0,501.9 L1774.3,501.0 L1775.7,502.6 L1777.1,502.2 L1778.5,502.4 L1779.8,502.7 L1781.2,501.1 L1782.5,502.7 L1783.9,500.7 L1785.2,501.0 L1786.6,500.2 L1787.9,501.3 L1789.3,501.6 L1790.6,500.8 L1792.0,502.6 L1793.3,500.0 L1794.7,501.5 L1796.0,500.3 L1797.4,501.4 L1798.7,501.9 L1800.1,501.6 L1801.4,499.5 L1802.8,500.0 L1804.1,501.0 L1805.5,502.2 L1806.8,499.1 L1808.2,500.5 L1809.9,499.7 L1811.6,498.2 L1812.9,498.9 L1814.3,499.4 L1815.6,497.9 L1816.9,499.5 L1818.3,498.5 L1819.6,500.0 L1821.0,497.2 L1822.3,500.2 L1823.6,498.6 L1825.0,498.7 L1826.3,497.7 L1827.6,498.3 L1829.0,500.0 L1830.3,499.9 L1831.6,498.2 L1833.0,498.9 L1834.3,498.4 L1835.7,498.6 L1837.0,498.8 L1838.3,499.2 L1839.7,501.3 L1841.0,499.9" fill="none" stroke="#1469e1" stroke-width="5.4" stroke-linejoin="round" stroke-linecap="butt"/><path d="M187.5,506.6 L189.7,506.6 L191.1,508.0 L192.4,507.3 L193.8,506.2 L195.2,506.2 L196.6,506.9 L197.9,507.2 L199.3,506.7 L200.7,505.8 L202.0,506.4 L203.3,505.3 L204.6,506.8 L205.9,507.6 L207.2,507.6 L208.5,505.8 L209.8,507.8 L211.1,506.9 L212.4,506.5 L213.7,509.2 L215.0,508.5 L216.3,508.9 L217.7,507.3 L219.0,509.5 L220.3,510.0 L221.6,510.1 L222.9,509.9 L224.2,510.3 L225.5,510.4 L226.8,510.0 L228.1,509.7 L229.4,511.1 L230.7,511.2 L232.0,510.5 L233.3,511.7 L234.6,510.1 L235.9,512.2 L237.2,511.0 L238.5,512.3 L239.8,509.9 L241.2,512.6 L242.5,512.1 L243.8,510.6 L245.1,512.5 L246.4,510.8 L247.7,510.7 L249.0,511.6 L250.3,511.1 L251.6,511.9 L252.9,513.3 L254.2,512.7 L255.5,512.9 L256.9,512.0 L258.2,513.3 L259.5,513.4 L260.8,513.2 L262.1,514.0 L263.4,512.8 L264.7,513.8 L266.0,512.6 L267.3,511.7 L268.6,513.4 L269.9,514.0 L271.2,512.6 L272.5,513.4 L273.8,514.2 L275.1,514.1 L276.5,511.8 L277.8,513.3 L279.1,511.9 L280.4,512.2 L281.7,514.4 L283.0,513.2 L284.3,513.8 L285.6,513.4 L286.9,513.6 L288.2,513.3 L289.5,513.1 L290.8,513.7 L292.1,515.3 L293.4,514.8 L294.7,514.0 L296.0,513.6 L297.3,514.3 L298.6,515.8 L300.0,515.1 L301.3,516.0 L302.6,516.6 L303.9,514.7 L305.2,516.6 L306.5,514.8 L307.8,517.3 L309.1,515.6 L310.4,516.7 L311.7,515.9 L313.0,517.8 L314.3,515.9 L315.6,515.4 L316.9,517.2 L318.2,516.3 L319.5,517.0 L320.8,515.4 L322.1,515.6 L323.4,516.8 L324.7,515.3 L326.0,515.2 L327.3,516.6 L328.6,514.2 L329.9,516.1 L331.2,514.1 L332.5,515.1 L333.9,513.5 L335.2,514.0 L336.5,516.3 L337.8,514.8 L339.1,515.8 L340.4,514.1 L341.7,514.4 L343.0,513.6 L344.3,514.9 L345.6,515.8 L346.9,514.7 L348.2,514.3 L349.5,515.9 L350.9,515.7 L352.2,515.0 L353.5,513.2 L354.8,514.8 L356.1,514.3 L357.4,514.4 L358.7,515.4 L360.0,513.3 L361.3,513.8 L362.6,513.4 L364.0,512.3 L365.3,512.4 L366.6,512.5 L367.9,512.8 L369.2,511.2 L370.5,510.5 L371.8,512.0 L373.1,508.9 L374.4,510.9 L375.8,510.1 L377.1,509.3 L378.4,508.6 L379.7,509.2 L381.0,508.1 L382.3,509.5 L383.6,509.3 L384.9,509.6 L386.2,507.8 L387.5,508.9 L388.8,509.7 L390.2,508.3 L391.6,510.3 L393.1,509.8 L394.5,507.2 L395.9,508.2 L397.3,507.8 L398.7,505.9 L400.1,506.5 L401.6,507.3 L403.0,506.6 L404.4,505.8 L405.7,505.3 L407.0,506.8 L408.3,505.5 L409.6,506.4 L410.9,506.2 L412.2,508.0 L413.5,507.1 L414.8,507.7 L416.1,507.5 L417.4,506.7 L418.7,508.6 L420.0,507.3 L421.6,504.8 L423.2,501.7 L424.8,498.0 L426.1,497.0 L427.5,496.4 L428.8,497.4 L430.2,497.8 L431.5,497.5 L432.9,495.8 L434.2,494.9 L435.5,495.8 L436.9,496.6 L438.2,494.1 L439.6,495.6 L440.9,493.6 L442.3,493.7 L443.6,494.0 L445.0,492.8 L446.4,493.6 L447.7,493.9 L449.1,495.8 L450.5,495.9 L451.9,493.7 L453.2,494.1 L454.6,494.8 L456.2,493.0 L457.8,487.6 L459.3,484.9 L460.9,482.3 L462.4,480.3 L464.0,477.6 L465.6,476.3 L467.1,475.2 L468.6,475.3 L470.0,476.1 L471.3,475.2 L472.6,476.3 L473.9,473.6 L475.2,472.9 L476.6,474.4 L477.9,472.4 L479.2,473.0 L480.5,471.8 L481.8,471.6 L483.1,470.2 L484.4,469.6 L485.7,469.2 L487.0,471.0 L488.3,470.1 L489.6,470.4 L490.9,470.7 L492.2,471.0 L493.5,469.5 L494.8,469.8 L496.1,470.2 L497.4,469.5 L498.7,466.4 L500.1,463.7 L501.4,462.8 L502.7,459.7 L504.0,458.5 L505.3,459.6 L506.6,457.7 L507.9,460.3 L509.2,459.9 L510.5,459.5 L511.8,461.6 L513.1,459.8 L514.4,460.0 L515.7,461.1 L517.0,458.1 L518.3,457.9 L519.6,456.8 L521.0,454.9 L522.3,452.4 L523.6,451.9 L524.9,449.3 L526.4,446.8 L527.9,446.1 L529.4,445.8 L530.8,445.5 L532.3,443.2 L533.8,442.1 L535.3,440.2 L536.6,439.1 L537.9,436.0 L539.2,435.6 L540.5,433.1 L541.8,430.4 L543.1,431.3 L544.4,432.9 L545.7,435.5 L547.1,435.5 L548.4,436.5 L549.7,439.9 L551.0,440.2 L552.5,439.7 L554.0,439.1 L555.5,439.0 L556.9,439.1 L558.4,436.2 L559.9,436.3 L561.4,436.2 L562.7,435.2 L564.0,436.5 L565.4,437.0 L566.7,438.4 L568.0,437.6 L569.3,436.0 L570.6,433.6 L571.9,431.0 L573.2,429.4 L574.5,427.1 L575.8,428.0 L577.1,431.3 L578.4,432.7 L579.7,434.5 L581.0,434.0 L582.3,437.1 L583.6,438.2 L584.9,438.0 L586.2,436.2 L587.5,436.5 L588.8,435.5 L590.2,434.0 L591.5,433.3 L592.8,431.8 L594.1,431.5 L595.4,428.3 L596.7,428.4 L598.3,430.2 L599.8,431.4 L601.4,432.3 L602.9,432.4 L604.5,434.3 L605.8,430.9 L607.1,430.3 L608.4,428.8 L609.8,425.0 L611.1,422.7 L612.4,420.6 L613.7,419.3 L615.2,417.5 L616.7,418.7 L618.2,419.1 L619.6,418.0 L621.1,416.1 L622.6,416.6 L624.1,415.4 L625.4,412.9 L626.7,414.0 L628.0,411.2 L629.4,409.1 L630.7,409.7 L632.0,407.0 L633.3,406.9 L634.6,406.9 L635.9,406.9 L637.2,408.7 L638.5,409.7 L639.8,411.1 L641.1,409.4 L642.4,412.4 L643.7,410.9 L645.0,411.9 L646.3,413.4 L647.6,413.9 L648.9,413.1 L650.2,413.1 L651.5,413.9 L652.9,412.9 L654.2,414.7 L655.5,413.0 L656.8,415.0 L658.1,414.0 L659.7,413.9 L661.2,412.0 L662.8,409.5 L664.3,410.7 L665.9,408.8 L667.2,406.6 L668.5,407.2 L669.8,406.1 L671.1,404.2 L672.5,405.1 L673.8,404.6 L675.1,403.4 L676.4,402.3 L677.7,400.4 L679.0,399.1 L680.3,397.7 L681.6,395.8 L682.9,394.7 L684.2,396.3 L685.5,396.4 L686.8,395.5 L688.1,395.6 L689.4,393.4 L690.8,395.1 L692.1,392.1 L693.4,393.0 L694.7,391.6 L696.0,392.3 L697.3,392.7 L698.6,391.8 L700.0,392.5 L701.5,391.9 L702.9,391.6 L704.3,391.3 L705.7,392.0 L707.1,391.7 L708.6,391.6 L710.0,392.6 L711.3,393.4 L712.7,392.9 L714.0,392.8 L715.4,392.2 L716.7,393.8 L718.1,392.4 L719.4,393.4 L720.7,391.9 L722.1,392.0 L723.4,391.6 L724.8,391.7 L726.1,390.2 L727.5,390.0 L728.8,387.9 L730.2,389.5 L731.5,389.2 L732.9,389.5 L734.3,387.8 L735.7,388.5 L737.0,388.2 L738.4,391.1 L739.8,390.3 L741.1,390.1 L742.5,388.9 L743.8,386.9 L745.2,386.3 L746.5,384.8 L747.9,385.3 L749.2,384.0 L750.5,385.1 L751.8,382.6 L753.1,381.5 L754.4,381.5 L755.7,381.6 L757.0,382.9 L758.3,382.2 L759.6,380.8 L761.0,379.3 L762.3,378.9 L763.6,378.7 L764.9,380.2 L766.2,378.9 L767.5,380.0 L768.8,379.4 L770.1,378.7 L771.4,377.3 L772.7,377.0 L774.0,377.0 L775.3,373.9 L776.6,372.9 L777.9,373.3 L779.2,372.1 L780.5,370.2 L781.9,369.4 L783.2,367.7 L784.5,369.4 L785.8,367.8 L787.1,367.5 L788.4,365.2 L789.7,366.8 L791.1,365.2 L792.4,366.2 L793.8,365.3 L795.1,366.7 L796.5,366.9 L797.8,366.0 L799.1,366.0 L800.4,366.6 L801.7,368.3 L803.0,370.5 L804.3,370.9 L805.6,372.3 L807.0,370.0 L808.4,371.7 L809.8,370.8 L811.2,369.0 L812.7,367.0 L814.1,368.7 L815.5,366.9 L816.9,364.7 L818.3,364.7 L819.7,364.4 L821.0,364.3 L822.3,364.6 L823.6,363.0 L824.9,363.0 L826.2,361.2 L827.5,360.9 L828.9,362.4 L830.2,360.4 L831.5,359.1 L832.8,360.1 L834.1,358.2 L835.4,358.9 L836.8,357.6 L838.1,358.0 L839.5,358.1 L840.8,357.8 L842.2,357.7 L843.6,356.5 L844.9,355.0 L846.3,356.6 L847.6,354.3 L849.0,355.1 L850.4,354.6 L851.7,355.0 L853.1,354.8 L854.4,353.0 L855.8,353.4 L857.1,353.7 L858.5,353.8 L859.8,353.0 L861.2,351.9 L862.5,354.1 L863.9,353.1 L865.2,351.3 L866.5,351.8 L867.9,353.9 L869.2,351.5 L870.6,351.9 L871.9,353.0 L873.3,353.0 L874.6,351.9 L876.0,351.6 L877.3,351.2 L878.7,348.5 L880.0,347.9 L881.4,349.9 L882.8,348.7 L884.1,345.7 L885.5,346.4 L886.9,345.7 L888.3,346.8 L889.7,349.5 L891.1,348.0 L892.5,350.0 L893.9,351.4 L895.3,351.1 L896.7,352.5 L898.1,351.9 L899.5,350.1 L900.9,348.7 L902.2,347.2 L903.6,348.4 L905.0,345.3 L906.4,346.9 L907.7,345.0 L909.1,343.3 L910.4,342.9 L911.8,345.3 L913.1,344.0 L914.5,345.6 L915.8,344.9 L917.2,347.5 L918.5,347.2 L919.8,348.0 L921.2,347.7 L922.5,344.5 L923.8,346.7 L925.1,345.4 L926.5,345.8 L927.8,344.4 L929.1,344.4 L930.5,343.9 L931.8,344.1 L933.1,341.6 L934.5,341.1 L935.8,342.2 L937.1,341.0 L938.5,341.0 L939.8,339.4 L941.1,341.2 L942.4,338.7 L943.8,340.7 L945.1,339.3 L946.7,338.3 L948.2,335.4 L949.5,335.4 L950.8,334.4 L952.2,336.1 L953.5,334.9 L954.8,335.6 L956.1,334.7 L957.4,337.4 L958.8,336.2 L960.1,335.7 L961.4,335.0 L962.7,337.0 L964.1,337.5 L965.4,337.5 L966.7,335.4 L968.0,336.3 L969.3,336.2 L970.7,337.6 L972.0,335.9 L973.3,337.0 L974.7,336.7 L976.0,337.3 L977.4,336.0 L978.8,333.2 L980.2,332.8 L981.5,332.3 L982.9,333.5 L984.3,332.3 L985.6,332.4 L986.9,331.9 L988.3,331.5 L989.6,331.1 L990.9,331.4 L992.2,331.3 L993.6,331.9 L994.9,331.1 L996.2,331.0 L997.5,331.2 L998.9,330.7 L1000.2,330.1 L1001.5,329.2 L1002.9,328.2 L1004.2,330.5 L1005.6,331.4 L1006.9,330.5 L1008.3,332.2 L1009.6,330.5 L1011.0,331.8 L1012.4,332.7 L1013.7,330.7 L1015.1,331.0 L1016.4,329.2 L1017.8,328.9 L1019.1,328.5 L1020.5,328.0 L1021.8,326.9 L1023.2,327.4 L1024.5,328.6 L1025.9,327.1 L1027.2,327.5 L1028.6,326.5 L1029.9,326.3 L1031.3,324.8 L1032.6,326.4 L1033.9,325.8 L1035.2,324.5 L1036.5,324.6 L1037.8,325.2 L1039.2,324.2 L1040.5,324.9 L1041.8,327.0 L1043.1,327.3 L1044.4,325.6 L1045.7,327.1 L1047.0,326.4 L1048.3,326.7 L1049.7,326.5 L1051.0,325.8 L1052.3,324.5 L1053.7,322.7 L1055.0,324.3 L1056.3,322.3 L1057.7,322.7 L1059.0,321.4 L1060.3,321.4 L1061.7,322.2 L1063.0,319.3 L1064.4,319.9 L1065.7,319.7 L1067.0,318.9 L1068.4,319.6 L1069.7,317.5 L1071.0,318.5 L1072.4,317.3 L1073.7,316.2 L1075.1,317.9 L1076.5,315.5 L1078.0,316.2 L1079.4,316.7 L1080.8,318.8 L1082.2,316.4 L1083.6,317.5 L1085.0,319.1 L1086.5,320.2 L1087.9,318.0 L1089.3,319.3 L1090.7,318.6 L1092.0,318.9 L1093.4,318.5 L1094.7,318.2 L1096.1,317.7 L1097.5,315.7 L1098.8,315.3 L1100.2,314.1 L1101.5,315.7 L1102.9,313.8 L1104.3,313.4 L1105.6,315.1 L1107.0,313.7 L1108.3,313.0 L1109.7,312.3 L1111.0,312.9 L1112.3,312.8 L1113.6,313.3 L1114.9,312.2 L1116.2,311.6 L1117.6,311.8 L1118.9,311.7 L1120.2,312.9 L1121.5,312.4 L1122.8,312.4 L1124.1,313.7 L1125.4,313.8 L1126.7,314.8 L1128.0,313.6 L1129.3,312.0 L1130.6,313.1 L1131.9,310.9 L1133.2,310.3 L1134.5,310.5 L1135.8,310.4 L1137.2,310.9 L1138.5,309.7 L1139.8,310.2 L1141.1,307.9 L1142.4,310.0 L1143.7,307.9 L1145.0,309.0 L1146.3,306.2 L1147.6,308.2 L1148.9,306.8 L1150.2,306.4 L1151.6,308.8 L1152.9,309.0 L1154.3,309.1 L1155.6,308.3 L1157.0,308.0 L1158.3,309.9 L1159.7,308.5 L1161.1,310.2 L1162.5,307.5 L1163.9,308.5 L1165.3,307.8 L1166.8,307.6 L1168.2,305.7 L1169.6,305.1 L1171.0,304.5 L1172.4,305.2 L1173.7,306.5 L1175.0,304.5 L1176.3,305.2 L1177.6,304.8 L1178.9,303.6 L1180.2,302.9 L1181.6,302.6 L1182.9,305.0 L1184.2,302.6 L1185.5,305.0 L1186.8,303.0 L1188.1,303.9 L1189.4,302.0 L1190.7,303.8 L1192.0,302.0 L1193.3,302.2 L1194.6,302.5 L1196.0,301.1 L1197.3,301.4 L1198.6,302.8 L1199.9,301.1 L1201.2,301.3 L1202.5,302.3 L1203.8,301.3 L1205.1,300.6 L1206.4,300.6 L1207.7,300.9 L1209.0,301.5 L1210.3,301.6 L1211.6,302.5 L1212.9,302.1 L1214.2,303.5 L1215.5,301.2 L1216.8,303.1 L1218.1,303.8 L1219.4,302.9 L1220.7,301.8 L1222.0,301.0 L1223.3,301.9 L1224.6,300.7 L1225.9,301.4 L1227.2,301.9 L1228.6,299.8 L1229.9,299.6 L1231.2,300.4 L1232.5,299.3 L1233.8,299.2 L1235.1,299.7 L1236.4,299.4 L1237.8,298.3 L1239.1,298.1 L1240.5,298.9 L1241.8,299.1 L1243.2,300.4 L1244.5,299.1 L1245.8,297.6 L1247.2,297.9 L1248.5,299.4 L1249.9,298.7 L1251.2,299.5 L1252.6,299.7 L1253.9,298.2 L1255.3,298.8 L1256.7,296.1 L1258.1,298.2 L1259.5,296.5 L1260.9,295.2 L1262.3,294.5 L1263.7,296.2 L1265.1,293.8 L1266.5,294.2 L1267.8,293.0 L1269.1,293.7 L1270.4,295.8 L1271.7,294.5 L1273.0,295.4 L1274.3,293.5 L1275.6,294.8 L1276.9,294.5 L1278.2,294.2 L1279.6,295.7 L1280.9,294.9 L1282.2,294.3 L1283.5,297.0 L1284.8,295.5 L1286.1,294.7 L1287.4,294.3 L1288.7,296.4 L1290.0,296.0 L1291.3,295.8 L1292.6,294.2 L1293.9,295.3 L1295.2,295.9 L1296.5,295.1 L1297.8,294.0 L1299.1,294.6 L1300.4,294.7 L1301.7,294.7 L1303.0,293.0 L1304.3,294.8 L1305.7,295.0 L1307.0,294.2 L1308.3,294.3 L1309.6,292.7 L1310.9,294.1 L1312.2,291.7 L1313.5,291.7 L1314.8,292.6 L1316.1,293.3 L1317.4,290.6 L1318.7,290.8 L1320.0,290.1 L1321.3,291.3 L1322.6,291.2 L1324.0,290.4 L1325.3,290.6 L1326.7,292.4 L1328.0,291.9 L1329.4,293.1 L1330.7,291.5 L1332.1,292.4 L1333.4,290.5 L1334.8,293.4 L1336.1,291.3 L1337.5,292.1 L1338.8,292.3 L1340.2,293.7 L1341.5,292.4 L1342.9,294.0 L1344.2,293.0 L1345.6,291.8 L1346.9,293.7 L1348.3,291.9 L1349.6,292.9 L1350.9,293.7 L1352.3,291.4 L1353.6,290.0 L1355.0,291.6 L1356.3,289.0 L1357.7,288.5 L1359.0,287.7 L1360.3,288.0 L1361.7,285.4 L1363.0,285.7 L1364.4,284.4 L1365.7,285.7 L1367.1,282.6 L1368.4,283.4 L1369.7,283.7 L1371.0,282.7 L1372.3,283.3 L1373.6,283.7 L1374.9,284.1 L1376.2,282.4 L1377.5,282.8 L1378.8,282.4 L1380.2,285.0 L1381.5,282.6 L1382.8,282.6 L1384.1,283.7 L1385.4,283.9 L1386.7,284.9 L1388.0,282.4 L1389.3,283.0 L1390.6,282.8 L1391.9,284.1 L1393.2,283.7 L1394.5,283.6 L1395.8,285.0 L1397.1,284.4 L1398.4,285.0 L1399.7,285.3 L1401.0,283.3 L1402.3,285.3 L1403.7,283.7 L1405.0,282.7 L1406.3,285.3 L1407.6,282.9 L1408.9,282.6 L1410.2,283.5 L1411.5,283.5 L1412.8,285.6 L1414.1,285.3 L1415.4,284.2 L1417.0,283.2 L1418.5,282.7 L1420.1,282.9 L1421.6,282.0 L1423.2,280.3 L1424.5,280.7 L1425.8,280.2 L1427.1,278.9 L1428.4,279.2 L1429.7,280.3 L1431.0,280.0 L1432.4,280.6 L1433.7,280.8 L1435.0,280.9 L1436.3,278.5 L1437.6,278.1 L1438.9,280.5 L1440.2,279.4 L1441.5,278.1 L1442.8,279.6 L1444.1,278.2 L1445.4,278.0 L1446.8,278.3 L1448.1,278.7 L1449.4,279.1 L1450.7,277.2 L1452.0,279.1 L1453.3,278.7 L1454.6,278.1 L1455.9,278.7 L1457.2,279.0 L1458.5,276.5 L1459.8,277.8 L1461.1,278.3 L1462.5,278.3 L1463.8,278.1 L1465.1,276.6 L1466.4,278.8 L1467.7,278.2 L1469.0,276.5 L1470.3,277.2 L1471.6,276.5 L1473.0,277.7 L1474.3,275.0 L1475.7,275.1 L1477.0,276.3 L1478.4,275.7 L1479.7,274.0 L1481.0,273.2 L1482.4,274.8 L1483.8,273.7 L1485.1,274.6 L1486.5,275.0 L1487.8,273.1 L1489.2,273.4 L1490.5,273.4 L1491.9,273.6 L1493.2,273.0 L1494.6,273.3 L1495.9,274.2 L1497.2,274.2 L1498.6,273.2 L1500.0,274.8 L1501.3,275.9 L1502.7,274.8 L1504.0,274.2 L1505.4,275.3 L1506.7,274.5 L1508.1,273.8 L1509.4,274.8 L1510.7,274.1 L1512.0,272.1 L1513.3,273.4 L1514.7,271.2 L1516.0,271.2 L1517.3,270.9 L1518.6,272.3 L1519.9,271.7 L1521.2,271.9 L1522.5,271.3 L1523.8,271.3 L1525.1,271.5 L1526.4,272.3 L1527.7,270.0 L1529.0,271.7 L1530.3,270.3 L1531.6,270.2 L1532.9,271.9 L1534.3,271.2 L1535.6,271.9 L1536.9,272.0 L1538.2,271.2 L1539.5,270.0 L1540.8,269.4 L1542.1,271.0 L1543.4,271.6 L1544.7,270.2 L1546.0,269.6 L1547.3,269.4 L1548.6,270.9 L1549.9,269.3 L1551.2,270.2 L1552.5,267.5 L1553.9,267.5 L1555.2,266.9 L1556.5,267.0 L1557.8,267.6 L1559.1,268.5 L1560.4,265.6 L1561.7,265.9 L1563.0,268.4 L1564.3,268.5 L1565.6,266.1 L1566.9,266.6 L1568.2,267.2 L1569.6,266.6 L1570.9,266.9 L1572.2,267.1 L1573.5,266.5 L1574.8,265.9 L1576.1,266.0 L1577.4,266.3 L1578.7,266.1 L1580.0,267.3 L1581.3,267.6 L1582.7,267.7 L1584.0,266.3 L1585.3,267.7 L1586.7,267.4 L1588.0,266.2 L1589.4,266.5 L1590.7,265.5 L1592.0,267.6 L1593.4,266.4 L1594.7,264.7 L1596.0,264.9 L1597.4,266.4 L1598.7,265.4 L1600.1,266.3 L1601.4,264.7 L1602.7,266.3 L1604.1,266.2 L1605.4,265.2 L1606.8,262.2 L1608.2,261.7 L1609.5,261.9 L1610.8,260.6 L1612.2,262.1 L1613.5,262.3 L1614.8,262.1 L1616.1,260.4 L1617.5,259.9 L1618.8,261.5 L1620.1,261.1 L1621.4,259.7 L1622.7,259.8 L1624.1,260.9 L1625.4,259.4 L1626.7,260.9 L1628.0,259.6 L1629.3,259.6 L1630.7,260.0 L1632.0,260.2 L1633.3,260.7 L1634.6,258.5 L1636.0,260.5 L1637.3,258.9 L1638.6,259.1 L1639.9,260.0 L1641.2,260.1 L1642.6,259.8 L1643.9,260.5 L1645.2,258.4 L1646.5,258.6 L1647.9,259.6 L1649.2,258.3 L1650.5,258.9 L1651.8,257.7 L1653.2,257.8 L1654.5,259.3 L1655.8,259.3 L1657.1,258.9 L1658.5,259.5 L1659.8,258.8 L1661.1,257.3 L1662.4,257.1 L1663.8,258.2 L1665.1,256.1 L1666.4,257.6 L1667.7,255.9 L1669.0,255.7 L1670.4,256.9 L1671.7,255.7 L1673.0,257.9 L1674.4,257.6 L1675.7,256.2 L1677.0,255.3 L1678.3,254.9 L1679.7,256.0 L1681.0,255.9 L1682.3,255.3 L1683.6,256.2 L1685.0,255.5 L1686.3,256.1 L1687.6,254.0 L1688.9,253.7 L1690.2,254.5 L1691.6,254.7 L1692.9,254.6 L1694.2,253.7 L1695.5,254.8 L1696.8,253.3 L1698.1,253.4 L1699.4,253.8 L1700.7,254.3 L1702.0,254.3 L1703.3,253.0 L1704.6,253.0 L1705.9,254.3 L1707.2,254.2 L1708.5,253.1 L1709.8,251.4 L1711.2,252.3 L1712.5,252.7 L1713.8,251.4 L1715.1,250.6 L1716.4,253.2 L1717.7,252.9 L1719.0,250.4 L1720.3,251.2 L1721.6,251.5 L1722.9,250.4 L1724.2,249.6 L1725.5,251.5 L1726.8,251.4 L1728.1,250.4 L1729.4,250.2 L1730.7,249.1 L1732.1,250.0 L1733.4,249.0 L1734.7,251.6 L1736.0,248.8 L1737.4,249.5 L1738.7,250.9 L1740.0,248.9 L1741.3,248.8 L1742.6,248.6 L1744.0,248.9 L1745.3,249.9 L1746.6,250.8 L1747.9,248.8 L1749.2,248.7 L1750.6,250.5 L1751.9,249.4 L1753.2,249.1 L1754.5,248.4 L1755.9,248.7 L1757.2,250.9 L1758.5,248.2 L1759.8,248.6 L1761.1,250.0 L1762.5,250.4 L1763.8,250.4 L1765.1,249.1 L1766.4,250.5 L1767.8,249.4 L1769.1,248.4 L1770.4,249.0 L1771.8,248.7 L1773.2,249.2 L1774.6,249.1 L1776.0,247.0 L1777.5,247.0 L1778.9,249.1 L1780.3,246.4 L1781.7,248.3 L1783.1,246.6 L1784.5,246.9 L1785.8,246.2 L1787.2,246.3 L1788.5,246.9 L1789.8,248.5 L1791.1,246.1 L1792.5,248.2 L1793.8,246.7 L1795.1,246.3 L1796.4,248.0 L1797.8,246.9 L1799.1,246.4 L1800.4,247.2 L1801.7,248.4 L1803.0,248.6 L1804.4,247.8 L1805.7,247.6 L1807.1,245.6 L1808.5,247.3 L1810.0,246.2 L1811.4,246.6 L1812.8,244.8 L1814.1,246.2 L1815.5,244.3 L1816.8,245.8 L1818.2,245.8 L1819.5,244.1 L1820.9,244.4 L1822.2,244.4 L1823.5,244.4 L1824.9,244.4 L1826.2,243.6 L1827.6,244.0 L1828.9,246.0 L1830.3,244.5 L1831.6,245.2 L1832.9,246.0 L1834.3,245.6 L1835.6,244.0 L1837.0,246.1 L1838.3,245.7 L1839.7,246.3 L1841.0,244.8" fill="none" stroke="#2aa860" stroke-width="5.4" stroke-linejoin="round" stroke-linecap="butt"/><path d="M187.5,440.7 L189.7,440.7 L191.1,441.2 L192.4,441.0 L193.8,441.0 L195.2,439.3 L196.6,440.2 L197.9,439.2 L199.3,440.3 L200.7,439.2 L202.0,438.3 L203.3,439.6 L204.6,439.2 L205.9,440.7 L207.2,439.6 L208.5,441.1 L209.8,441.3 L211.1,441.5 L212.4,439.6 L213.7,442.0 L215.0,441.6 L216.3,441.6 L217.7,441.7 L219.0,440.2 L220.3,442.6 L221.6,441.9 L222.9,441.8 L224.2,441.6 L225.5,443.0 L226.8,443.2 L228.1,443.6 L229.4,441.9 L230.7,442.4 L232.0,443.0 L233.3,442.5 L234.6,442.2 L235.9,443.0 L237.2,442.4 L238.5,444.7 L239.8,443.3 L241.1,443.0 L242.4,443.2 L243.8,445.3 L245.1,443.9 L246.4,444.8 L247.7,444.9 L249.0,446.2 L250.3,446.8 L251.6,445.1 L252.9,446.2 L254.2,447.1 L255.5,446.2 L256.8,446.2 L258.1,447.5 L259.4,447.2 L260.7,446.1 L262.0,447.7 L263.4,447.0 L264.7,445.8 L266.0,447.2 L267.3,448.0 L268.6,447.3 L269.9,447.3 L271.2,447.2 L272.5,448.6 L273.8,448.1 L275.1,446.9 L276.4,447.4 L277.7,447.5 L279.0,449.3 L280.4,448.6 L281.7,447.1 L283.0,449.5 L284.3,447.1 L285.6,448.8 L286.9,448.6 L288.2,448.4 L289.5,449.1 L290.8,448.3 L292.1,447.3 L293.4,448.4 L294.7,449.2 L296.0,449.1 L297.3,447.8 L298.6,447.4 L300.0,448.8 L301.3,449.0 L302.6,447.3 L303.9,449.1 L305.2,449.4 L306.5,447.7 L307.8,447.6 L309.1,448.4 L310.4,447.8 L311.7,448.9 L313.0,446.7 L314.3,446.8 L315.6,446.8 L316.9,447.8 L318.2,446.1 L319.5,447.0 L320.8,446.7 L322.1,447.1 L323.4,445.5 L324.7,447.6 L326.0,446.2 L327.3,447.7 L328.6,446.6 L329.9,447.4 L331.2,445.8 L332.5,448.0 L333.9,447.1 L335.2,447.9 L336.5,448.3 L337.8,447.0 L339.1,448.7 L340.4,446.8 L341.7,447.8 L343.0,446.5 L344.3,447.9 L345.6,449.1 L346.9,449.2 L348.2,449.4 L349.5,448.2 L350.9,449.5 L352.2,448.5 L353.5,447.4 L354.8,448.8 L356.1,449.4 L357.4,448.6 L358.7,448.0 L360.0,448.1 L361.3,446.8 L362.6,446.4 L363.9,446.4 L365.2,446.3 L366.5,445.8 L367.8,444.3 L369.1,443.7 L370.4,444.2 L371.7,444.9 L373.0,443.9 L374.3,444.7 L375.6,443.4 L376.9,443.6 L378.3,444.4 L379.6,443.6 L380.9,444.9 L382.2,445.9 L383.5,444.1 L384.9,445.3 L386.2,445.8 L387.5,446.0 L388.8,445.4 L390.1,445.3 L391.4,444.7 L392.7,442.8 L394.0,443.7 L395.3,443.3 L396.6,441.5 L398.2,440.9 L399.7,444.0 L401.3,443.2 L402.8,442.8 L404.4,444.6 L405.7,442.4 L407.0,443.4 L408.4,442.0 L409.7,439.5 L411.0,439.3 L412.3,438.4 L413.6,438.8 L414.9,439.8 L416.2,437.9 L417.5,439.1 L418.8,437.7 L420.1,438.4 L421.6,438.7 L423.2,440.7 L424.5,438.2 L425.9,437.3 L427.2,436.3 L428.6,433.9 L429.9,431.9 L431.3,430.5 L432.6,429.7 L434.0,428.6 L435.4,429.0 L436.8,429.5 L438.2,430.1 L439.6,429.3 L441.0,430.2 L442.4,430.2 L443.8,431.7 L445.2,430.5 L446.6,429.1 L448.0,428.9 L449.4,426.2 L450.8,424.0 L452.2,423.7 L453.7,421.0 L455.1,419.7 L456.5,418.0 L457.9,418.4 L459.3,416.4 L460.7,417.9 L462.1,416.5 L463.4,416.6 L464.8,417.0 L466.2,417.0 L467.6,418.1 L468.9,417.5 L470.3,418.0 L471.7,415.9 L473.2,416.8 L474.6,414.8 L476.1,412.1 L477.5,413.3 L479.0,411.9 L480.4,410.1 L481.7,406.2 L483.1,403.5 L484.4,399.7 L485.7,399.7 L487.0,397.0 L488.3,395.9 L489.6,394.3 L490.9,393.9 L492.2,392.5 L493.5,394.4 L494.8,396.0 L496.1,398.0 L497.4,397.2 L498.7,399.2 L500.0,401.0 L501.3,403.3 L502.6,404.4 L503.9,405.2 L505.3,406.7 L506.6,407.1 L507.9,410.0 L509.2,410.1 L510.7,408.3 L512.2,405.9 L513.8,403.4 L515.3,401.2 L516.8,401.5 L518.3,398.4 L519.6,394.4 L520.9,387.5 L522.2,384.0 L523.5,382.3 L524.8,381.5 L526.1,380.3 L527.4,378.7 L528.8,378.9 L530.1,376.2 L531.4,375.5 L532.7,375.3 L534.0,372.9 L535.3,374.5 L536.6,375.3 L537.9,376.1 L539.2,377.4 L540.5,379.3 L541.8,381.0 L543.1,381.4 L544.4,382.3 L545.8,384.1 L547.1,386.0 L548.7,384.5 L550.2,383.3 L551.8,383.6 L553.3,381.4 L554.9,380.1 L556.2,379.5 L557.5,379.8 L558.8,381.2 L560.1,379.4 L561.5,380.9 L562.8,379.1 L564.1,379.7 L565.4,379.3 L566.7,381.5 L568.0,380.7 L569.3,378.4 L570.6,377.3 L571.9,375.6 L573.2,374.8 L574.5,374.2 L576.1,373.7 L577.6,372.5 L579.2,371.8 L580.7,370.7 L582.3,368.3 L583.6,366.5 L584.9,365.6 L586.3,361.3 L587.6,361.7 L588.9,358.5 L590.2,359.2 L591.5,359.5 L592.8,362.0 L594.1,363.2 L595.4,363.1 L596.7,365.7 L598.0,367.9 L599.3,373.0 L600.6,374.9 L601.9,374.0 L603.2,371.9 L604.5,371.3 L605.9,367.1 L607.2,365.5 L608.5,365.1 L609.8,361.9 L611.1,359.5 L612.4,359.3 L613.7,356.6 L615.0,357.2 L616.3,355.9 L617.6,356.2 L618.9,356.5 L620.2,357.9 L621.5,358.2 L622.8,359.2 L624.1,357.7 L625.4,359.7 L626.7,358.5 L628.0,357.5 L629.3,356.6 L630.6,355.5 L631.9,354.6 L633.2,355.9 L634.6,355.2 L635.9,353.6 L637.2,351.4 L638.5,350.6 L639.8,350.7 L641.1,349.1 L642.4,349.0 L643.7,349.4 L645.0,346.8 L646.3,347.4 L647.6,346.2 L648.9,345.3 L650.3,342.2 L651.6,342.0 L652.9,340.9 L654.2,341.5 L655.5,340.6 L656.8,340.0 L658.1,340.9 L659.4,339.6 L660.7,340.8 L662.0,341.0 L663.3,342.1 L664.6,344.5 L665.9,344.2 L667.2,345.6 L668.5,346.1 L669.9,345.5 L671.2,344.7 L672.5,346.1 L673.8,344.6 L675.1,344.5 L676.4,344.7 L677.7,342.2 L679.0,342.9 L680.3,342.4 L681.6,341.1 L682.9,339.0 L684.2,336.2 L685.5,336.3 L686.8,337.2 L688.1,336.2 L689.4,337.0 L690.7,336.8 L692.0,337.3 L693.4,336.5 L694.7,338.1 L696.0,338.1 L697.3,338.1 L698.6,337.0 L699.9,336.8 L701.2,335.4 L702.5,335.1 L703.8,334.3 L705.1,334.4 L706.4,335.1 L707.7,334.3 L709.0,333.8 L710.3,333.5 L711.7,333.5 L713.0,332.2 L714.3,330.7 L715.6,331.4 L716.9,329.6 L718.2,329.8 L719.7,329.0 L721.2,326.5 L722.6,327.4 L724.1,325.2 L725.4,325.7 L726.8,325.7 L728.1,328.0 L729.4,326.2 L730.8,329.2 L732.1,329.2 L733.4,328.1 L734.7,330.3 L736.1,330.4 L737.4,330.7 L738.7,331.0 L740.0,329.2 L741.3,327.9 L742.6,328.4 L744.0,325.2 L745.3,326.3 L746.6,323.5 L747.9,323.1 L749.2,322.9 L750.5,321.5 L751.8,323.2 L753.1,321.7 L754.4,322.1 L755.7,320.5 L757.0,321.4 L758.3,320.9 L759.6,319.0 L761.0,319.7 L762.3,320.0 L763.6,318.3 L764.9,319.1 L766.2,317.7 L767.5,317.6 L768.8,318.8 L770.1,318.5 L771.4,318.3 L772.7,316.6 L774.1,316.6 L775.5,317.2 L776.9,318.0 L778.3,318.0 L779.6,317.4 L781.0,318.7 L782.4,317.6 L783.8,319.3 L785.2,318.2 L786.5,317.5 L787.8,315.8 L789.1,316.9 L790.4,314.6 L791.7,315.4 L793.0,313.0 L794.4,315.0 L795.7,313.0 L797.0,312.9 L798.3,310.6 L799.6,311.3 L800.9,310.3 L802.5,310.2 L804.0,310.0 L805.6,311.8 L807.2,311.1 L808.6,309.1 L809.9,309.6 L811.3,307.8 L812.6,309.2 L814.0,308.6 L815.4,305.4 L816.7,305.9 L818.1,305.2 L819.4,305.2 L820.8,304.5 L822.2,302.7 L823.5,303.6 L824.9,300.8 L826.2,299.9 L827.6,300.2 L829.0,301.7 L830.4,300.3 L831.8,301.1 L833.2,302.6 L834.5,302.7 L835.9,302.9 L837.3,305.6 L838.7,304.9 L840.1,305.6 L841.4,305.8 L842.8,303.8 L844.1,305.1 L845.5,302.6 L846.8,304.0 L848.2,302.6 L849.5,303.0 L850.8,301.9 L852.2,301.0 L853.5,300.1 L854.9,300.5 L856.2,298.8 L857.6,297.2 L858.9,297.8 L860.2,299.1 L861.5,298.9 L862.8,298.7 L864.1,299.0 L865.4,297.7 L866.8,298.5 L868.1,299.6 L869.4,300.2 L870.7,300.2 L872.0,298.2 L873.3,299.8 L874.6,299.4 L875.9,298.8 L877.3,297.7 L878.6,296.3 L880.0,295.5 L881.3,295.7 L882.7,295.0 L884.0,293.6 L885.3,293.2 L886.7,293.0 L888.0,292.8 L889.4,291.6 L890.7,289.7 L892.1,291.0 L893.4,289.2 L894.8,288.9 L896.1,290.6 L897.5,290.7 L898.8,288.4 L900.2,289.7 L901.6,290.8 L902.9,289.3 L904.3,289.8 L905.6,289.2 L907.0,288.4 L908.4,289.0 L909.7,288.8 L911.1,289.3 L912.4,290.3 L913.8,290.0 L915.4,289.1 L916.9,289.1 L918.5,286.8 L919.9,287.9 L921.3,287.7 L922.7,289.9 L924.1,289.7 L925.5,290.1 L927.0,291.6 L928.4,291.7 L929.8,291.4 L931.2,292.8 L932.6,293.1 L933.9,291.8 L935.2,292.8 L936.5,290.0 L937.8,291.3 L939.1,288.0 L940.4,287.0 L941.7,287.8 L943.0,286.0 L944.3,286.1 L945.6,284.2 L946.9,285.4 L948.2,283.7 L949.6,284.0 L950.9,283.9 L952.3,284.4 L953.6,284.4 L955.0,283.4 L956.4,283.3 L957.7,281.2 L959.1,281.2 L960.4,282.1 L961.8,283.4 L963.2,281.4 L964.5,282.0 L965.9,280.2 L967.2,281.2 L968.6,281.3 L969.9,282.4 L971.2,281.6 L972.5,282.2 L973.8,279.9 L975.1,280.5 L976.5,280.4 L977.8,282.2 L979.1,280.2 L980.4,282.5 L981.7,280.6 L983.0,282.4 L984.3,281.3 L985.7,280.7 L987.1,279.6 L988.5,280.8 L989.9,278.6 L991.2,278.9 L992.6,276.5 L994.0,278.0 L995.4,277.8 L996.8,275.9 L998.2,275.2 L999.6,277.3 L1001.0,276.4 L1002.4,276.4 L1003.8,277.4 L1005.2,278.6 L1006.6,279.8 L1008.0,280.3 L1009.4,279.3 L1010.7,279.7 L1012.1,277.6 L1013.4,276.7 L1014.8,274.4 L1016.1,274.9 L1017.5,273.4 L1018.8,272.3 L1020.1,272.0 L1021.5,273.6 L1022.8,271.8 L1024.2,271.6 L1025.5,271.7 L1026.9,271.8 L1028.2,273.1 L1029.5,273.8 L1030.9,272.0 L1032.2,273.1 L1033.6,273.3 L1034.9,273.4 L1036.3,273.0 L1037.6,273.5 L1038.9,272.1 L1040.3,272.3 L1041.6,273.4 L1043.0,272.9 L1044.3,274.5 L1045.7,273.1 L1047.0,273.9 L1048.3,274.5 L1049.6,272.6 L1050.9,271.8 L1052.2,272.6 L1053.5,272.1 L1054.8,271.6 L1056.1,272.5 L1057.4,270.7 L1058.8,271.6 L1060.1,271.8 L1061.4,270.4 L1062.7,270.2 L1064.0,271.1 L1065.3,269.9 L1066.6,268.4 L1067.9,267.8 L1069.2,267.5 L1070.5,268.4 L1071.8,267.3 L1073.1,265.9 L1074.5,266.9 L1075.8,265.6 L1077.1,264.6 L1078.4,264.5 L1079.7,264.5 L1081.0,265.7 L1082.3,263.8 L1083.6,263.5 L1084.9,264.0 L1086.2,264.0 L1087.5,265.6 L1088.8,265.1 L1090.2,264.3 L1091.5,263.6 L1092.8,263.2 L1094.1,263.4 L1095.4,265.5 L1096.7,264.9 L1098.0,263.5 L1099.3,264.9 L1100.6,263.3 L1101.9,264.5 L1103.3,263.7 L1104.7,262.5 L1106.0,261.0 L1107.4,262.0 L1108.8,261.2 L1110.2,259.8 L1111.5,258.1 L1112.9,258.2 L1114.3,258.9 L1115.7,258.5 L1117.1,259.4 L1118.5,258.1 L1119.8,260.6 L1121.2,258.3 L1122.6,259.2 L1124.0,260.0 L1125.4,260.5 L1126.7,259.3 L1128.0,258.6 L1129.3,259.9 L1130.6,260.3 L1131.9,258.1 L1133.2,257.5 L1134.5,258.3 L1135.8,256.6 L1137.2,256.7 L1138.5,257.1 L1139.8,256.0 L1141.1,254.9 L1142.4,254.2 L1143.7,255.2 L1145.0,256.0 L1146.3,255.5 L1147.6,252.8 L1148.9,253.5 L1150.2,253.7 L1151.5,253.9 L1152.8,253.2 L1154.1,254.7 L1155.4,254.4 L1156.8,255.5 L1158.1,254.3 L1159.4,256.2 L1160.7,256.1 L1162.0,255.3 L1163.3,254.6 L1164.6,255.8 L1165.9,255.6 L1167.2,254.5 L1168.5,255.9 L1169.8,255.9 L1171.1,255.4 L1172.4,256.4 L1173.8,253.7 L1175.1,255.4 L1176.4,255.5 L1177.7,253.5 L1179.0,253.9 L1180.3,254.3 L1181.7,252.6 L1183.1,253.6 L1184.5,253.6 L1185.9,252.1 L1187.2,252.6 L1188.6,251.3 L1190.0,251.8 L1191.4,250.1 L1192.8,250.3 L1194.1,251.5 L1195.5,249.9 L1196.8,248.6 L1198.2,248.7 L1199.5,250.4 L1200.9,250.7 L1202.2,249.9 L1203.5,248.5 L1204.9,250.4 L1206.2,249.8 L1207.6,248.0 L1208.9,248.7 L1210.3,249.4 L1211.6,248.8 L1212.9,247.0 L1214.2,246.8 L1215.6,247.3 L1216.9,248.4 L1218.2,248.4 L1219.5,246.1 L1220.9,247.4 L1222.2,246.7 L1223.5,246.6 L1224.8,245.4 L1226.2,246.1 L1227.5,244.9 L1228.8,244.1 L1230.1,246.0 L1231.5,245.6 L1232.8,245.3 L1234.2,246.8 L1235.5,247.4 L1236.9,247.7 L1238.2,248.8 L1239.6,247.9 L1241.0,247.8 L1242.4,247.5 L1243.8,245.9 L1245.2,245.6 L1246.6,245.7 L1248.0,245.2 L1249.4,244.4 L1250.8,244.1 L1252.1,244.4 L1253.4,242.8 L1254.7,243.6 L1256.0,242.7 L1257.3,243.9 L1258.7,243.5 L1260.0,243.5 L1261.3,242.5 L1262.6,241.6 L1263.9,243.3 L1265.2,241.9 L1266.5,241.7 L1267.9,241.6 L1269.3,241.7 L1270.8,242.3 L1272.2,243.4 L1273.6,244.0 L1275.0,243.4 L1276.4,244.4 L1277.8,243.2 L1279.3,244.2 L1280.7,244.2 L1282.1,244.9 L1283.4,244.1 L1284.7,244.0 L1286.0,244.9 L1287.4,244.6 L1288.7,242.9 L1290.0,243.5 L1291.3,242.6 L1292.6,243.9 L1293.9,243.4 L1295.2,243.3 L1296.5,243.0 L1297.8,243.0 L1299.1,241.6 L1300.4,240.8 L1301.8,241.5 L1303.1,240.4 L1304.4,242.8 L1305.7,241.4 L1307.0,241.7 L1308.3,242.3 L1309.6,241.7 L1310.9,239.9 L1312.2,240.0 L1313.5,240.3 L1314.8,239.1 L1316.1,241.0 L1317.4,240.7 L1318.7,240.0 L1320.0,239.6 L1321.3,239.2 L1322.6,239.7 L1324.0,240.3 L1325.3,240.7 L1326.6,240.5 L1327.9,240.5 L1329.2,239.2 L1330.5,239.1 L1331.8,238.7 L1333.1,240.5 L1334.4,238.2 L1335.7,238.0 L1337.0,238.3 L1338.3,240.0 L1339.6,239.8 L1340.9,238.2 L1342.2,239.6 L1343.6,239.6 L1344.9,238.3 L1346.2,237.5 L1347.5,239.1 L1348.8,237.9 L1350.1,237.1 L1351.4,239.2 L1352.7,238.0 L1354.0,237.7 L1355.3,237.4 L1356.6,237.8 L1357.9,236.7 L1359.2,235.9 L1360.5,236.8 L1361.8,236.6 L1363.2,235.4 L1364.5,236.2 L1365.8,237.2 L1367.1,235.8 L1368.4,236.6 L1369.7,236.3 L1371.0,234.9 L1372.3,234.3 L1373.6,236.0 L1374.9,235.6 L1376.2,234.6 L1377.5,234.2 L1378.8,235.9 L1380.1,235.9 L1381.4,233.8 L1382.8,234.6 L1384.1,234.4 L1385.4,233.6 L1386.7,232.6 L1388.0,233.3 L1389.3,234.0 L1390.6,233.7 L1391.9,233.3 L1393.2,233.5 L1394.5,232.5 L1395.8,232.9 L1397.1,233.3 L1398.4,233.7 L1399.7,233.7 L1401.0,235.3 L1402.3,233.2 L1403.7,235.8 L1405.0,233.9 L1406.3,235.7 L1407.6,234.1 L1408.9,235.2 L1410.2,234.7 L1411.5,233.9 L1412.8,236.2 L1414.1,236.3 L1415.4,235.6 L1416.7,234.8 L1418.0,236.1 L1419.3,235.1 L1420.6,236.4 L1421.9,233.6 L1423.2,234.4 L1424.5,233.8 L1425.8,234.7 L1427.2,235.0 L1428.5,235.1 L1429.8,234.1 L1431.1,233.5 L1432.4,234.5 L1433.7,232.4 L1435.0,232.7 L1436.3,233.9 L1437.6,232.9 L1438.9,234.3 L1440.2,231.6 L1441.5,232.5 L1442.8,231.6 L1444.1,230.9 L1445.4,231.0 L1446.7,230.9 L1448.0,231.5 L1449.3,231.5 L1450.7,231.6 L1452.0,230.8 L1453.3,231.8 L1454.6,231.1 L1455.9,232.3 L1457.2,229.9 L1458.5,230.7 L1459.8,230.5 L1461.1,230.0 L1462.4,230.2 L1463.7,231.1 L1465.0,229.1 L1466.3,230.9 L1467.6,229.3 L1468.9,229.1 L1470.2,229.7 L1471.6,229.4 L1472.9,228.5 L1474.2,227.8 L1475.5,230.1 L1476.8,228.4 L1478.1,227.5 L1479.4,228.9 L1480.7,228.4 L1482.0,227.7 L1483.3,227.6 L1484.6,228.9 L1486.0,227.3 L1487.3,227.4 L1488.6,228.8 L1489.9,227.0 L1491.2,227.0 L1492.5,226.2 L1493.8,227.0 L1495.1,227.4 L1496.4,227.4 L1497.7,226.7 L1499.0,226.6 L1500.3,226.0 L1501.6,227.5 L1502.9,226.6 L1504.2,227.6 L1505.5,226.2 L1506.9,227.2 L1508.2,225.2 L1509.5,225.7 L1510.8,227.7 L1512.1,226.9 L1513.4,226.8 L1514.7,226.3 L1516.0,226.2 L1517.3,226.2 L1518.6,225.3 L1519.9,225.1 L1521.2,226.4 L1522.5,226.4 L1523.8,225.1 L1525.1,226.1 L1526.4,224.6 L1527.7,225.8 L1529.0,224.5 L1530.4,225.4 L1531.7,224.8 L1533.0,225.3 L1534.3,224.1 L1535.6,225.0 L1536.9,225.3 L1538.2,223.8 L1539.5,224.2 L1540.8,224.7 L1542.1,225.1 L1543.4,224.6 L1544.7,224.7 L1546.0,225.1 L1547.3,224.4 L1548.6,223.3 L1549.9,223.8 L1551.3,224.8 L1552.6,223.9 L1553.9,224.3 L1555.2,223.1 L1556.5,223.3 L1557.8,224.6 L1559.1,224.1 L1560.4,223.5 L1561.7,221.9 L1563.0,223.2 L1564.3,221.5 L1565.6,223.9 L1566.9,223.9 L1568.2,223.1 L1569.5,221.7 L1570.9,223.2 L1572.2,221.2 L1573.5,223.0 L1574.8,222.0 L1576.1,220.5 L1577.4,222.8 L1578.7,221.4 L1580.0,221.5 L1581.3,222.3 L1582.6,221.8 L1584.0,221.3 L1585.3,222.1 L1586.6,220.1 L1587.9,222.0 L1589.3,220.3 L1590.6,219.3 L1591.9,220.1 L1593.2,219.2 L1594.5,219.1 L1595.9,220.5 L1597.2,219.0 L1598.5,219.0 L1599.8,219.3 L1601.2,219.1 L1602.5,220.8 L1603.8,220.7 L1605.1,220.5 L1606.4,220.7 L1607.8,219.0 L1609.1,219.9 L1610.4,218.4 L1611.7,220.1 L1613.0,219.6 L1614.4,219.3 L1615.7,217.8 L1617.0,217.3 L1618.3,219.5 L1619.7,218.4 L1621.0,218.4 L1622.3,218.0 L1623.7,218.6 L1625.1,216.1 L1626.5,217.3 L1627.9,216.2 L1629.3,216.7 L1630.8,215.3 L1632.2,214.1 L1633.6,215.8 L1635.0,213.5 L1636.4,213.7 L1637.7,214.3 L1639.1,214.4 L1640.4,212.6 L1641.8,213.7 L1643.1,212.7 L1644.5,212.1 L1645.8,212.0 L1647.1,213.9 L1648.5,212.1 L1649.8,212.4 L1651.2,212.2 L1652.5,210.8 L1653.9,212.7 L1655.2,212.5 L1656.5,212.8 L1657.9,211.2 L1659.2,210.6 L1660.6,210.9 L1661.9,211.8 L1663.3,211.5 L1664.6,210.9 L1665.9,210.6 L1667.2,210.9 L1668.5,209.8 L1669.9,211.9 L1671.2,210.6 L1672.5,210.6 L1673.8,211.4 L1675.1,209.7 L1676.4,211.1 L1677.7,210.0 L1679.1,211.2 L1680.4,209.2 L1681.7,209.6 L1683.0,210.6 L1684.3,210.1 L1685.6,209.8 L1686.9,210.3 L1688.3,209.2 L1689.6,209.8 L1690.9,208.5 L1692.2,210.7 L1693.5,209.1 L1694.8,210.7 L1696.1,209.9 L1697.4,210.0 L1698.8,210.0 L1700.1,208.5 L1701.4,210.3 L1702.7,208.9 L1704.0,210.5 L1705.3,210.2 L1706.6,209.8 L1708.0,210.2 L1709.3,209.1 L1710.6,209.7 L1711.9,210.4 L1713.2,208.2 L1714.5,207.9 L1715.8,208.7 L1717.2,209.0 L1718.5,207.9 L1719.8,208.1 L1721.1,208.8 L1722.5,209.1 L1723.9,207.1 L1725.3,205.7 L1726.7,205.1 L1728.1,205.5 L1729.5,203.7 L1730.9,203.7 L1732.3,203.1 L1733.7,203.3 L1735.0,203.1 L1736.4,203.3 L1737.7,204.3 L1739.1,202.1 L1740.4,204.7 L1741.8,202.7 L1743.1,202.3 L1744.5,204.4 L1745.8,203.9 L1747.2,203.9 L1748.5,203.1 L1749.9,204.7 L1751.2,203.5 L1752.6,204.7 L1753.9,203.4 L1755.3,204.4 L1756.6,204.7 L1758.0,204.0 L1759.3,204.3 L1760.7,203.3 L1762.0,204.9 L1763.4,204.6 L1764.7,205.0 L1766.1,203.4 L1767.4,204.3 L1768.8,204.7 L1770.1,202.8 L1771.5,204.7 L1772.8,204.7 L1774.1,202.2 L1775.5,202.7 L1776.8,202.1 L1778.2,202.4 L1779.5,201.8 L1780.9,202.8 L1782.2,202.0 L1783.5,202.0 L1784.9,202.3 L1786.2,201.9 L1787.6,202.9 L1788.9,202.6 L1790.3,200.8 L1791.6,201.7 L1792.9,200.9 L1794.3,200.2 L1795.6,201.0 L1797.0,200.3 L1798.3,201.9 L1799.7,202.1 L1801.0,202.6 L1802.3,200.4 L1803.7,199.8 L1805.0,201.8 L1806.4,200.7 L1807.7,202.1 L1809.1,200.5 L1810.4,200.2 L1811.7,199.5 L1813.1,201.9 L1814.4,200.6 L1815.8,200.3 L1817.1,200.3 L1818.5,201.1 L1819.8,200.3 L1821.1,201.1 L1822.5,200.0 L1823.8,199.0 L1825.1,199.5 L1826.4,200.7 L1827.8,199.3 L1829.1,199.8 L1830.4,199.4 L1831.7,199.0 L1833.0,199.2 L1834.4,198.1 L1835.7,198.9 L1837.0,199.6 L1838.3,197.3 L1839.7,198.0 L1841.0,198.2" fill="none" stroke="#b070e0" stroke-width="6.0" stroke-linejoin="round" stroke-linecap="butt"/></g>
<line x1="1267.4" y1="213.3" x2="1261.1" y2="1381" stroke="#111" stroke-width="3.0" stroke-dasharray="15.5 16.56"/>
<g stroke="#000" stroke-width="4.6"><line x1="393.9" y1="1382.0" x2="393.9" y2="1368.3" /><line x1="600.8" y1="1382.0" x2="600.8" y2="1355.8" /><line x1="807.6" y1="1382.0" x2="807.6" y2="1368.3" /><line x1="1014.5" y1="1382.0" x2="1014.5" y2="1355.8" /><line x1="1221.4" y1="1382.0" x2="1221.4" y2="1368.3" /><line x1="1428.2" y1="1382.0" x2="1428.2" y2="1355.8" /><line x1="1635.1" y1="1382.0" x2="1635.1" y2="1368.3" /><line x1="187.0" y1="1248.7" x2="199.9" y2="1248.7" /><line x1="187.0" y1="1115.4" x2="212.4" y2="1115.4" /><line x1="187.0" y1="982.2" x2="199.9" y2="982.2" /><line x1="187.0" y1="848.9" x2="212.4" y2="848.9" /><line x1="187.0" y1="715.6" x2="199.9" y2="715.6" /><line x1="187.0" y1="582.3" x2="212.4" y2="582.3" /><line x1="187.0" y1="449.0" x2="199.9" y2="449.0" /><line x1="187.0" y1="315.8" x2="212.4" y2="315.8" /><line x1="187.0" y1="182.5" x2="199.9" y2="182.5" /></g>
<rect x="187.0" y="49.2" width="1655.0" height="1332.8" fill="none" stroke="#000" stroke-width="5.0"/>
<g font-size="57" style="stroke:#fff;stroke-width:0.9px;paint-order:fill"><text transform="translate(187.5,1458.2) scale(1,1.04)" text-anchor="middle">800</text><text transform="translate(601.2,1458.2) scale(1,1.04)" text-anchor="middle">900</text><text transform="translate(1015.0,1458.2) scale(1,1.04)" text-anchor="middle">1000</text><text transform="translate(1428.8,1458.2) scale(1,1.04)" text-anchor="middle">1100</text><text transform="translate(1842.5,1458.2) scale(1,1.04)" text-anchor="middle">1200</text><text transform="translate(158.5,1403.6) scale(1,1.04)" text-anchor="end">10</text><text transform="translate(158.5,1137.0) scale(1,1.04)" text-anchor="end">20</text><text transform="translate(158.5,870.5) scale(1,1.04)" text-anchor="end">30</text><text transform="translate(158.5,603.9) scale(1,1.04)" text-anchor="end">40</text><text transform="translate(158.5,337.4) scale(1,1.04)" text-anchor="end">50</text><text transform="translate(158.5,70.8) scale(1,1.04)" text-anchor="end">60</text></g>
<text transform="translate(1015,1553.6) scale(1,1.01)" font-size="70" text-anchor="middle" style="font-kerning:normal">Wave length/nm</text>
<text transform="translate(72.8,714) rotate(-90) scale(0.992,1)" font-size="70" text-anchor="middle">Reflectance/%</text>
<line x1="538.5" y1="387.5" x2="682.5" y2="269.8" stroke="#000" stroke-width="1.3"/><polygon points="707.3,249.6 686.3,277.7 675.6,264.5" fill="#000"/><line x1="522.0" y1="459.1" x2="702.5" y2="459.1" stroke="#000" stroke-width="1.3"/><polygon points="734.5,459.1 700.5,467.6 700.5,450.6" fill="#000"/><line x1="515.5" y1="678.0" x2="709.5" y2="673.7" stroke="#000" stroke-width="1.3"/><polygon points="741.5,673.0 707.7,682.2 707.3,665.3" fill="#000"/><line x1="465.6" y1="878.4" x2="720.0" y2="875.9" stroke="#000" stroke-width="1.3"/><polygon points="752.0,875.6 718.1,884.4 717.9,867.4" fill="#000"/><line x1="531.7" y1="1308.9" x2="721.7" y2="1210.0" stroke="#000" stroke-width="1.3"/><polygon points="750.1,1195.2 723.9,1218.4 716.0,1203.4" fill="#000"/>
<line x1="1275" y1="229.7" x2="1301.8" y2="193.6" stroke="#111" stroke-width="1.4"/><line x1="1274.1" y1="309.6" x2="1301.4" y2="348.2" stroke="#111" stroke-width="1.4"/><line x1="1276.7" y1="551.1" x2="1304" y2="580.3" stroke="#111" stroke-width="1.4"/><line x1="1276.7" y1="723.7" x2="1304" y2="745.3" stroke="#111" stroke-width="1.4"/><line x1="1277.6" y1="1253.6" x2="1297.4" y2="1266.2" stroke="#111" stroke-width="1.4"/>
<g><text transform="translate(709.4,246.3) scale(1,1.02)" font-size="50">Total Pigment:50%</text><text transform="translate(742.4,484.6) scale(1,1.02)" font-size="50">Total Pigment:40%</text><text transform="translate(757.6,695.8) scale(1,1.02)" font-size="50">Total Pigment:30%</text><text transform="translate(764.1,905.4) scale(1,1.02)" font-size="50">Total Pigment:20%</text><text transform="translate(750.4,1199.8) scale(1,1.02)" font-size="50">Total Pigment:10%</text><text transform="translate(1301.8,180.3) scale(1,1.035)" font-size="50.6">(1060, 52.633)</text><text transform="translate(1301.4,390.9) scale(1,1.035)" font-size="50.6">(1060, 50.812)</text><text transform="translate(1303.4,625.6) scale(1,1.035)" font-size="50.6">(1060, 41.658)</text><text transform="translate(1303.4,790.8) scale(1,1.035)" font-size="50.6">(1060, 35.112)</text><text transform="translate(1297.6,1310.4) scale(1,1.035)" font-size="50.6">(1060, 15.19)</text></g>
</svg>
</body></html>
